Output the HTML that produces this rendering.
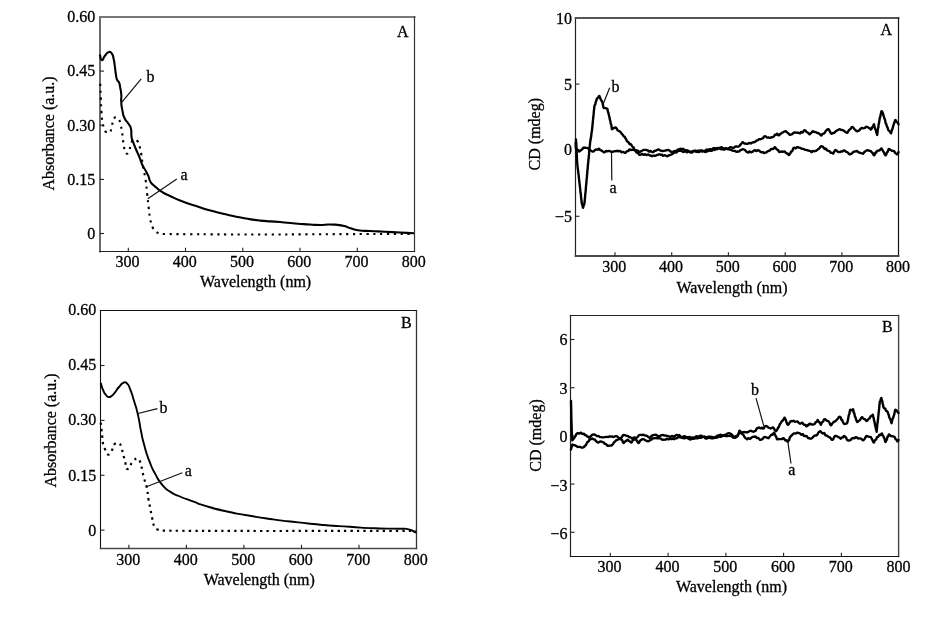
<!DOCTYPE html>
<html><head><meta charset="utf-8"><style>
html,body{margin:0;padding:0;background:#fff;width:934px;height:617px;overflow:hidden}
svg{display:block;will-change:transform}
text{font-family:"Liberation Serif", serif;fill:#000;stroke:#000;stroke-width:0.3px}
</style></head><body>
<svg width="934" height="617" viewBox="0 0 934 617">
<line x1="100.0" y1="17.0" x2="100.0" y2="251.5" stroke="#6a6a6a" stroke-width="2" stroke-linecap="square"/>
<line x1="100.0" y1="17.0" x2="414.5" y2="17.0" stroke="#777" stroke-width="2" stroke-linecap="square"/>
<line x1="414.5" y1="17.0" x2="414.5" y2="251.5" stroke="#333" stroke-width="1.2" stroke-linecap="square"/>
<line x1="100.0" y1="251.5" x2="414.5" y2="251.5" stroke="#222" stroke-width="1.1" stroke-linecap="square"/>
<line x1="100.0" y1="71.1" x2="104.0" y2="71.1" stroke="#222" stroke-width="1.1"/>
<line x1="100.0" y1="125.2" x2="104.0" y2="125.2" stroke="#222" stroke-width="1.1"/>
<line x1="100.0" y1="179.4" x2="104.0" y2="179.4" stroke="#222" stroke-width="1.1"/>
<line x1="100.0" y1="233.5" x2="104.0" y2="233.5" stroke="#222" stroke-width="1.1"/>
<line x1="128.3" y1="251.5" x2="128.3" y2="247.7" stroke="#222" stroke-width="1.1"/>
<line x1="185.5" y1="251.5" x2="185.5" y2="247.7" stroke="#222" stroke-width="1.1"/>
<line x1="242.8" y1="251.5" x2="242.8" y2="247.7" stroke="#222" stroke-width="1.1"/>
<line x1="300" y1="251.5" x2="300" y2="247.7" stroke="#222" stroke-width="1.1"/>
<line x1="357.3" y1="251.5" x2="357.3" y2="247.7" stroke="#222" stroke-width="1.1"/>
<text x="95.2" y="21.9" text-anchor="end" font-size="16" >0.60</text>
<text x="95.2" y="76.1" text-anchor="end" font-size="16" >0.45</text>
<text x="95.2" y="130.6" text-anchor="end" font-size="16" >0.30</text>
<text x="95.2" y="184.8" text-anchor="end" font-size="16" >0.15</text>
<text x="95.2" y="238.9" text-anchor="end" font-size="16" >0</text>
<text x="127.60000000000001" y="267.3" text-anchor="middle" font-size="16" >300</text>
<text x="184.8" y="267.3" text-anchor="middle" font-size="16" >400</text>
<text x="242.10000000000002" y="267.3" text-anchor="middle" font-size="16" >500</text>
<text x="299.3" y="267.3" text-anchor="middle" font-size="16" >600</text>
<text x="356.6" y="267.3" text-anchor="middle" font-size="16" >700</text>
<text x="413.8" y="267.3" text-anchor="middle" font-size="16" >800</text>
<text x="255.6" y="287" text-anchor="middle" font-size="16" >Wavelength (nm)</text>
<text transform="translate(53.5,133.4) rotate(-90)" x="0" y="0" text-anchor="middle" font-size="16">Absorbance (a.u.)</text>
<text x="397" y="36.5" text-anchor="start" font-size="16" >A</text>
<path d="M99.80,54.50 C101.20,58.30 100.07,59.86 101.90,60.20 C103.61,60.52 102.63,58.34 105.10,55.50 C107.43,52.81 106.32,52.54 109.10,51.90 C110.92,51.48 110.78,52.03 112.00,53.90 C113.78,56.63 112.83,55.46 113.60,58.80 C114.70,63.59 114.08,61.22 114.80,66.10 C115.68,72.02 115.00,69.10 116.00,75.00 C116.60,78.50 115.90,76.98 117.20,80.20 C117.84,81.78 118.24,80.63 118.90,82.20 C120.17,85.23 119.48,83.80 120.10,87.10 C121.08,92.33 120.89,89.71 121.30,95.00 C121.62,99.17 120.90,97.12 121.20,101.30 C121.63,107.39 121.20,104.41 122.40,110.40 C123.47,115.75 122.36,113.40 124.60,118.30 C126.50,122.46 126.17,120.06 128.60,124.00 C130.37,126.86 130.17,125.27 130.90,128.50 C132.17,134.14 130.68,131.52 131.60,137.30 C132.08,140.32 131.94,138.81 133.00,141.70 C134.81,146.61 133.90,144.16 135.90,149.00 C138.30,154.83 137.22,151.86 139.60,157.70 C141.62,162.66 140.24,160.35 142.50,165.20 C144.37,169.22 143.70,167.08 145.80,171.00 C147.63,174.41 146.86,172.65 148.40,176.20 C149.86,179.58 148.50,178.24 150.30,181.40 C151.96,184.31 151.20,182.90 153.60,185.30 C155.93,187.63 154.84,186.41 157.40,188.50 C159.57,190.27 158.38,189.55 160.70,191.10 C163.58,193.02 162.15,192.07 165.20,193.70 C167.01,194.67 166.13,194.15 168.00,195.00 C176.06,198.68 171.86,197.26 180.10,200.50 C190.66,204.66 185.40,202.58 196.20,206.10 C206.86,209.58 201.49,208.00 212.30,211.00 C222.89,213.94 217.57,212.59 228.30,215.00 C238.97,217.39 233.62,216.32 244.40,218.20 C255.02,220.05 249.68,219.46 260.40,220.60 C273.42,221.99 266.95,220.91 280.00,222.00 C290.01,222.84 284.99,222.67 295.00,223.50 C304.99,224.33 300.00,223.91 310.00,224.50 C317.00,224.91 313.50,225.00 320.50,225.00 C326.50,225.00 323.51,224.31 329.50,224.50 C338.51,224.78 334.17,224.10 343.00,225.70 C348.17,226.64 345.44,226.78 350.50,228.30 C355.44,229.78 352.91,229.50 358.00,230.20 C365.91,231.30 361.99,230.56 370.00,231.00 C379.99,231.56 375.00,231.20 385.00,231.70 C395.00,232.20 390.00,231.98 400.00,232.50 C409.33,232.98 404.67,232.73 414.00,233.20" fill="none" stroke="#000" stroke-width="2.1" stroke-linejoin="round"/>
<path d="M100.20,81.00 C100.25,83.67 100.21,83.33 100.30,86.00 C100.53,92.40 100.50,91.60 100.80,98.00 C101.14,105.47 100.97,104.54 101.50,112.00 C101.88,117.34 101.67,116.72 102.50,122.00 C103.01,125.25 102.92,124.90 104.00,128.00 C104.78,130.24 104.35,130.68 106.00,132.00 C107.34,133.08 108.53,133.61 109.60,132.50 C111.62,130.41 110.72,129.49 111.80,126.00 C113.06,121.92 111.79,121.04 114.00,118.30 C115.10,116.93 116.74,117.02 118.00,118.30 C120.26,120.60 119.53,121.33 120.60,125.00 C121.66,128.64 121.39,128.24 122.00,132.00 C122.62,135.82 122.40,135.36 122.90,139.20 C123.36,142.67 123.08,142.28 123.80,145.70 C124.63,149.64 124.02,150.04 125.80,153.00 C126.36,153.94 127.58,153.92 128.20,153.00 C130.19,150.03 129.25,149.55 130.70,145.70 C131.86,142.62 131.04,141.57 133.10,140.00 C134.46,138.96 135.73,139.43 137.10,140.80 C139.19,142.89 138.61,143.35 139.60,146.50 C140.79,150.28 140.52,149.87 141.20,153.80 C142.23,159.79 141.81,159.10 142.80,165.10 C143.52,169.44 143.57,168.88 144.40,173.20 C145.06,176.66 145.13,176.21 145.60,179.70 C146.63,187.35 146.35,186.42 147.20,194.10 C148.05,201.78 147.85,200.83 148.80,208.50 C149.55,214.54 149.17,213.86 150.40,219.80 C151.30,224.15 150.95,223.83 152.80,227.80 C153.94,230.23 153.79,230.39 156.00,231.80 C158.96,233.69 158.85,233.97 162.50,234.00 C296.45,235.14 279.87,234.00 414.00,234.00" fill="none" id="tla" stroke="#000" stroke-width="2.1" stroke-linecap="butt" stroke-dasharray="2.2 4.6" stroke-dashoffset="3.99"/>
<line x1="121.7" y1="102.4" x2="141.2" y2="78.9" stroke="#111" stroke-width="1.2"/>
<line x1="147.8" y1="198.8" x2="176.8" y2="178.9" stroke="#111" stroke-width="1.2"/>
<text x="146.5" y="82.3" text-anchor="start" font-size="16" >b</text>
<text x="180.5" y="179.5" text-anchor="start" font-size="16" >a</text>
<line x1="575.5" y1="18.0" x2="575.5" y2="256.0" stroke="#222" stroke-width="1.2" stroke-linecap="square"/>
<line x1="575.5" y1="18.0" x2="898.5" y2="18.0" stroke="#555" stroke-width="1.8" stroke-linecap="square"/>
<line x1="898.5" y1="18.0" x2="898.5" y2="256.0" stroke="#111" stroke-width="1.2" stroke-linecap="square"/>
<line x1="575.5" y1="256.0" x2="898.5" y2="256.0" stroke="#4a4a4a" stroke-width="1.8" stroke-linecap="square"/>
<line x1="575.5" y1="84.1" x2="579.5" y2="84.1" stroke="#222" stroke-width="1.1"/>
<line x1="575.5" y1="150.2" x2="579.5" y2="150.2" stroke="#222" stroke-width="1.1"/>
<line x1="575.5" y1="216.3" x2="579.5" y2="216.3" stroke="#222" stroke-width="1.1"/>
<line x1="615" y1="256.0" x2="615" y2="252.2" stroke="#222" stroke-width="1.1"/>
<line x1="671.7" y1="256.0" x2="671.7" y2="252.2" stroke="#222" stroke-width="1.1"/>
<line x1="728.4" y1="256.0" x2="728.4" y2="252.2" stroke="#222" stroke-width="1.1"/>
<line x1="785.2" y1="256.0" x2="785.2" y2="252.2" stroke="#222" stroke-width="1.1"/>
<line x1="841.9" y1="256.0" x2="841.9" y2="252.2" stroke="#222" stroke-width="1.1"/>
<text x="572.0" y="24.2" text-anchor="end" font-size="16" >10</text>
<text x="572.0" y="89.7" text-anchor="end" font-size="16" >5</text>
<text x="572.0" y="155.1" text-anchor="end" font-size="16" >0</text>
<text x="572.0" y="221.70000000000002" text-anchor="end" font-size="16" >−5</text>
<text x="614.3" y="271.5" text-anchor="middle" font-size="16" >300</text>
<text x="671.0" y="271.5" text-anchor="middle" font-size="16" >400</text>
<text x="727.6999999999999" y="271.5" text-anchor="middle" font-size="16" >500</text>
<text x="784.5" y="271.5" text-anchor="middle" font-size="16" >600</text>
<text x="841.1999999999999" y="271.5" text-anchor="middle" font-size="16" >700</text>
<text x="897.9" y="271.5" text-anchor="middle" font-size="16" >800</text>
<text x="732" y="293.2" text-anchor="middle" font-size="16" >Wavelength (nm)</text>
<text transform="translate(539.5,134.2) rotate(-90)" x="0" y="0" text-anchor="middle" font-size="16">CD (mdeg)</text>
<text x="880.5" y="35" text-anchor="start" font-size="16" >A</text>
<path d="M575.90,139.50 C575.96,139.96 575.98,140.02 576.02,140.48 C576.10,141.34 576.08,141.46 576.15,142.32 C576.19,142.84 576.23,142.91 576.27,143.43 C576.34,144.16 576.36,144.27 576.40,145.00 C576.44,145.70 576.43,145.80 576.45,146.49 C576.48,147.13 576.47,147.23 576.51,147.87 C576.52,148.10 576.55,148.13 576.56,148.36 C576.60,148.95 576.60,149.04 576.62,149.62 C576.65,150.82 576.63,151.00 576.67,152.20 C576.68,152.42 576.71,152.45 576.72,152.67 C576.76,153.28 576.76,153.36 576.78,153.97 C576.81,155.13 576.79,155.29 576.83,156.45 C576.84,156.71 576.87,156.74 576.88,157.00 C576.92,157.88 576.90,158.01 576.94,158.89 C576.95,159.26 576.98,159.31 576.99,159.69 C577.03,160.43 577.02,160.53 577.05,161.27 C577.07,161.80 577.04,161.88 577.10,162.40 C577.14,162.77 577.21,162.81 577.25,163.18 C577.36,164.12 577.33,164.26 577.41,165.20 C577.47,165.97 577.46,166.09 577.56,166.85 C577.61,167.22 577.66,167.27 577.71,167.63 C577.81,168.39 577.78,168.50 577.86,169.26 C577.93,169.82 577.91,169.91 578.02,170.46 C578.05,170.65 578.15,170.65 578.17,170.85 C578.29,171.93 578.23,172.10 578.32,173.19 C578.37,173.68 578.40,173.75 578.48,174.24 C578.54,174.64 578.56,174.70 578.63,175.10 C578.70,175.52 578.74,175.58 578.78,176.00 C578.89,177.18 578.82,177.36 578.94,178.55 C578.97,178.89 579.05,178.92 579.09,179.26 C579.19,180.03 579.17,180.15 579.24,180.93 C579.31,181.65 579.31,181.75 579.39,182.47 C579.45,182.96 579.47,183.03 579.55,183.52 C579.62,183.98 579.65,184.04 579.70,184.50 C579.79,185.40 579.74,185.53 579.84,186.42 C579.87,186.67 579.96,186.69 579.99,186.93 C580.09,187.81 580.03,187.95 580.13,188.83 C580.17,189.19 580.23,189.23 580.27,189.59 C580.37,190.53 580.33,190.67 580.41,191.62 C580.46,192.18 580.44,192.29 580.56,192.83 C580.57,192.91 580.68,192.86 580.70,192.95 C580.82,193.55 580.78,193.67 580.84,194.30 C580.91,194.96 580.94,195.05 580.99,195.71 C581.07,196.84 581.02,197.01 581.13,198.13 C581.15,198.37 581.24,198.39 581.27,198.63 C581.37,199.36 581.33,199.47 581.41,200.20 C581.46,200.58 581.51,200.63 581.56,201.01 C581.65,201.75 581.58,201.87 581.70,202.60 C581.80,203.22 581.86,203.30 582.03,203.91 C582.17,204.44 582.21,204.50 582.35,205.03 C582.51,205.61 582.54,205.69 582.67,206.28 C582.84,206.98 582.82,207.71 583.00,207.80 C583.14,207.87 583.21,207.18 583.38,206.63 C583.56,206.02 583.54,205.92 583.75,205.33 C583.89,204.93 584.01,204.91 584.12,204.51 C584.36,203.64 584.35,203.49 584.50,202.60 C584.59,202.08 584.57,202.00 584.63,201.48 C584.69,201.00 584.71,200.94 584.76,200.46 C584.83,199.76 584.82,199.66 584.89,198.96 C584.95,198.40 584.98,198.32 585.02,197.77 C585.10,196.89 585.10,196.77 585.15,195.90 C585.22,194.89 585.18,194.74 585.28,193.74 C585.30,193.57 585.39,193.56 585.42,193.39 C585.51,192.83 585.49,192.74 585.55,192.16 C585.61,191.47 585.62,191.37 585.68,190.68 C585.75,189.79 585.73,189.66 585.81,188.78 C585.85,188.23 585.90,188.16 585.94,187.61 C586.02,186.61 585.99,186.46 586.07,185.46 C586.11,185.01 586.14,184.95 586.20,184.50 C586.25,184.13 586.28,184.07 586.32,183.70 C586.39,182.91 586.38,182.80 586.44,182.01 C586.49,181.20 586.50,181.09 586.55,180.28 C586.61,179.52 586.57,179.39 586.67,178.65 C586.68,178.57 586.77,178.60 586.79,178.53 C586.88,178.04 586.87,177.95 586.91,177.43 C586.98,176.20 586.92,176.01 587.02,174.78 C587.03,174.66 587.13,174.67 587.14,174.55 C587.24,173.68 587.20,173.55 587.26,172.67 C587.31,171.88 587.31,171.76 587.38,170.98 C587.42,170.47 587.42,170.39 587.49,169.89 C587.53,169.61 587.57,169.58 587.61,169.30 C587.68,168.77 587.70,168.69 587.73,168.16 C587.81,166.97 587.75,166.80 587.85,165.62 C587.86,165.40 587.95,165.38 587.96,165.17 C588.06,164.17 588.00,164.02 588.08,163.02 C588.11,162.73 588.16,162.69 588.20,162.40 C588.27,161.91 588.29,161.84 588.34,161.34 C588.42,160.43 588.37,160.29 588.47,159.38 C588.50,159.11 588.57,159.08 588.61,158.81 C588.69,158.24 588.70,158.16 588.74,157.58 C588.82,156.60 588.78,156.45 588.88,155.48 C588.91,155.17 588.99,155.14 589.01,154.83 C589.11,153.71 589.08,153.54 589.15,152.41 C589.20,151.60 589.19,151.48 589.29,150.68 C589.32,150.39 589.39,150.36 589.42,150.08 C589.52,149.04 589.47,148.88 589.56,147.84 C589.60,147.31 589.63,147.23 589.69,146.70 C589.75,146.20 589.77,146.13 589.83,145.63 C589.89,145.13 589.91,145.06 589.96,144.55 C590.04,143.83 590.03,143.72 590.10,143.00 C590.18,142.15 590.19,142.03 590.29,141.18 C590.37,140.50 590.32,140.34 590.48,139.71 C590.50,139.63 590.65,139.74 590.67,139.65 C590.83,138.72 590.71,138.50 590.86,137.52 C590.89,137.35 591.01,137.36 591.05,137.19 C591.19,136.56 591.17,136.45 591.24,135.79 C591.35,134.83 591.32,134.68 591.43,133.72 C591.49,133.16 591.53,133.09 591.62,132.54 C591.71,131.98 591.73,131.90 591.81,131.33 C591.90,130.71 591.92,130.62 592.00,130.00 C592.07,129.48 592.08,129.40 592.14,128.88 C592.21,128.22 592.21,128.13 592.27,127.47 C592.33,126.82 592.34,126.73 592.41,126.08 C592.47,125.50 592.47,125.42 592.54,124.84 C592.59,124.44 592.64,124.39 592.68,123.98 C592.76,123.06 592.74,122.92 592.81,122.00 C592.87,121.32 592.87,121.22 592.95,120.55 C593.00,120.13 593.04,120.07 593.08,119.65 C593.17,118.69 593.14,118.55 593.22,117.59 C593.27,117.01 593.25,116.92 593.35,116.35 C593.38,116.19 593.47,116.19 593.49,116.03 C593.60,115.10 593.55,114.95 593.62,114.01 C593.67,113.40 593.71,113.32 593.76,112.71 C593.84,111.72 593.80,111.57 593.89,110.57 C593.93,110.23 593.98,110.19 594.03,109.84 C594.10,109.34 594.11,109.26 594.16,108.76 C594.24,108.08 594.20,107.97 594.30,107.30 C594.45,106.33 594.41,106.15 594.70,105.23 C594.78,104.97 594.99,105.03 595.10,104.77 C595.36,104.20 595.36,104.08 595.50,103.45 C595.73,102.43 595.61,102.22 595.90,101.24 C595.98,100.96 596.19,101.01 596.30,100.74 C596.57,100.06 596.40,99.86 596.70,99.20 C596.97,98.61 597.10,98.55 597.53,98.05 C597.88,97.65 598.04,97.69 598.37,97.27 C598.82,96.68 598.81,96.00 599.20,95.90 C599.48,95.83 599.58,96.41 599.80,96.90 C600.14,97.69 600.08,97.86 600.40,98.66 C600.64,99.27 600.68,99.36 601.00,99.93 C601.24,100.36 601.33,100.39 601.60,100.80 C601.83,101.14 601.92,101.17 602.08,101.54 C602.37,102.22 602.38,102.34 602.56,103.06 C602.83,104.16 602.79,104.34 603.04,105.44 C603.24,106.33 603.21,106.49 603.52,107.33 C603.66,107.73 603.65,107.97 604.00,108.10 C604.64,108.34 604.92,107.95 605.65,108.13 C606.46,108.32 606.77,108.34 607.30,108.90 C607.70,109.32 607.50,109.60 607.64,110.22 C607.82,110.96 607.79,111.08 607.99,111.81 C608.11,112.28 608.20,112.32 608.33,112.79 C608.52,113.46 608.50,113.56 608.67,114.24 C608.82,114.85 608.86,114.93 609.01,115.55 C609.18,116.23 609.20,116.33 609.36,117.02 C609.52,117.76 609.54,117.86 609.70,118.60 C609.84,119.28 609.83,119.39 610.00,120.07 C610.11,120.49 610.19,120.53 610.30,120.95 C610.47,121.61 610.48,121.72 610.60,122.39 C610.76,123.28 610.66,123.47 610.90,124.31 C610.94,124.47 611.16,124.36 611.20,124.52 C611.44,125.45 611.34,125.66 611.50,126.65 C611.62,127.39 611.63,127.50 611.80,128.23 C611.91,128.69 611.79,129.23 612.10,129.20 C612.70,129.15 612.93,128.49 613.75,128.07 C614.47,127.70 614.67,127.47 615.40,127.50 C615.93,127.52 616.11,127.74 616.47,128.18 C617.10,128.98 616.89,129.37 617.53,130.16 C617.89,130.59 618.10,130.50 618.60,130.80 C619.10,131.11 619.21,131.10 619.67,131.46 C620.21,131.87 620.30,131.93 620.75,132.43 C621.30,133.05 621.29,133.22 621.83,133.85 C622.30,134.41 622.47,134.41 622.90,135.00 C623.34,135.61 623.21,135.91 623.70,136.41 C623.95,136.67 624.25,136.38 624.50,136.64 C625.00,137.15 624.89,137.43 625.30,138.08 C625.64,138.63 625.80,138.65 626.10,139.22 C626.54,140.05 626.40,140.31 626.90,141.08 C627.15,141.47 627.34,141.40 627.70,141.70 C628.16,142.09 628.30,142.10 628.67,142.57 C629.20,143.25 629.04,143.70 629.63,144.17 C629.94,144.41 630.25,143.90 630.60,144.10 C631.16,144.44 631.14,144.74 631.57,145.32 C632.04,145.97 632.00,146.16 632.53,146.76 C632.91,147.18 633.19,147.04 633.50,147.50 C633.98,148.22 633.77,148.54 634.23,149.28 C634.44,149.63 634.65,149.53 634.95,149.83 C635.32,150.19 635.41,150.24 635.67,150.69 C636.09,151.39 635.86,151.75 636.40,152.30 C636.88,152.79 637.30,152.47 637.85,152.93 C638.65,153.59 638.47,154.21 639.30,154.70 C639.82,155.01 640.09,154.79 640.72,154.64 C641.42,154.48 641.51,153.99 642.15,154.04 C642.84,154.09 642.89,154.80 643.58,154.86 C644.22,154.92 644.36,154.23 645.00,154.30 C645.70,154.37 645.75,155.10 646.45,155.16 C647.11,155.21 647.21,154.56 647.90,154.53 C648.57,154.49 648.69,154.75 649.35,155.02 C650.04,155.30 650.10,155.45 650.80,155.70 C651.45,155.93 651.58,156.04 652.25,156.04 C652.93,156.03 653.01,155.72 653.70,155.66 C654.37,155.61 654.50,155.89 655.15,155.78 C655.85,155.67 655.91,155.45 656.60,155.20 C657.20,154.99 657.30,155.01 657.90,154.80 C658.51,154.59 658.59,154.34 659.20,154.31 C659.80,154.29 659.88,154.61 660.50,154.70 C661.11,154.79 661.29,154.47 661.84,154.69 C662.54,154.96 662.50,155.60 663.18,155.74 C663.75,155.86 663.89,155.27 664.52,155.26 C665.14,155.24 665.24,155.45 665.86,155.67 C666.49,155.89 666.58,156.25 667.20,156.20 C667.96,156.14 668.04,155.77 668.80,155.44 C669.54,155.12 669.64,155.08 670.40,154.81 C671.14,154.55 671.32,154.67 672.00,154.30 C672.74,153.90 672.74,153.65 673.45,153.16 C674.10,152.72 674.17,152.47 674.90,152.30 C675.59,152.14 675.88,152.74 676.50,152.46 C677.37,152.07 677.22,151.28 678.10,150.85 C678.72,150.55 678.98,151.03 679.70,150.90 C680.41,150.77 680.57,150.10 681.15,150.28 C681.92,150.53 681.80,151.38 682.60,151.81 C683.15,152.11 683.39,151.94 684.05,151.84 C684.74,151.75 684.87,151.30 685.50,151.40 C686.15,151.51 686.17,152.24 686.80,152.30 C687.38,152.35 687.46,151.73 688.10,151.63 C688.68,151.55 688.81,151.72 689.40,151.90 C690.08,152.10 690.14,152.36 690.83,152.45 C691.47,152.54 691.67,152.56 692.25,152.29 C693.00,151.94 692.93,151.34 693.67,151.11 C694.26,150.93 694.44,151.23 695.10,151.40 C695.79,151.57 695.87,151.68 696.57,151.83 C697.24,151.98 697.36,152.09 698.03,152.04 C698.73,151.98 698.91,151.94 699.50,151.60 C699.83,151.41 699.68,150.93 700.00,150.90 C700.54,150.85 700.70,151.28 701.35,151.42 C701.96,151.55 702.07,151.48 702.70,151.48 C703.33,151.48 703.45,151.29 704.05,151.41 C704.71,151.54 704.76,151.98 705.40,152.00 C706.01,152.02 706.10,151.71 706.73,151.49 C707.34,151.26 707.44,151.26 708.05,151.04 C708.67,150.82 708.75,150.56 709.38,150.53 C709.98,150.49 710.08,150.89 710.70,150.90 C711.28,150.91 711.42,150.84 711.95,150.58 C712.59,150.27 712.57,149.82 713.20,149.68 C713.73,149.56 714.00,150.24 714.45,150.02 C715.16,149.66 715.03,148.62 715.70,148.42 C716.20,148.27 716.39,149.30 716.95,149.26 C717.56,149.20 717.53,148.51 718.20,148.20 C718.86,147.89 719.09,148.18 719.80,147.94 C720.59,147.67 720.68,147.06 721.40,147.10 C722.10,147.14 722.11,147.77 722.83,148.10 C723.44,148.39 723.59,148.41 724.27,148.43 C724.93,148.45 725.04,148.15 725.70,148.20 C726.46,148.26 726.56,148.71 727.30,148.67 C728.06,148.64 728.19,148.42 728.90,148.07 C729.68,147.68 729.72,147.18 730.50,147.09 C731.21,147.01 731.33,147.53 732.10,147.70 C732.82,147.86 733.03,148.01 733.70,147.79 C734.52,147.53 734.48,146.97 735.30,146.66 C735.97,146.40 736.15,146.59 736.90,146.57 C737.65,146.56 737.82,146.80 738.50,146.60 C739.07,146.43 739.13,146.21 739.58,145.77 C740.13,145.23 740.14,145.08 740.65,144.49 C741.15,143.90 741.19,143.79 741.72,143.25 C742.19,142.77 742.29,142.25 742.80,142.30 C743.46,142.37 743.48,143.17 744.23,143.49 C744.81,143.74 745.01,143.44 745.67,143.53 C746.35,143.63 746.45,143.95 747.10,143.90 C747.71,143.86 747.77,143.58 748.38,143.34 C748.97,143.11 749.07,142.86 749.66,142.89 C750.27,142.92 750.37,143.55 750.94,143.48 C751.57,143.41 751.57,142.89 752.22,142.59 C752.77,142.33 752.90,142.42 753.50,142.30 C754.17,142.16 754.36,142.35 754.93,142.02 C755.70,141.59 755.61,141.16 756.37,140.68 C756.95,140.31 757.18,140.52 757.80,140.20 C758.52,139.83 758.50,139.47 759.23,139.21 C759.84,139.00 760.02,139.32 760.67,139.19 C761.36,139.04 761.45,138.92 762.10,138.60 C762.61,138.35 762.77,138.38 763.15,137.98 C763.75,137.35 763.54,136.85 764.20,136.40 C764.70,136.06 765.06,136.04 765.63,136.27 C766.40,136.59 766.30,137.24 767.07,137.57 C767.64,137.81 767.84,137.43 768.50,137.50 C769.14,137.57 769.23,137.88 769.85,137.86 C770.49,137.84 770.56,137.57 771.20,137.41 C771.82,137.25 771.96,137.38 772.55,137.16 C773.22,136.91 773.40,136.89 773.90,136.40 C774.53,135.78 774.32,135.25 774.97,134.76 C775.32,134.50 775.62,135.00 776.03,134.79 C776.62,134.50 776.63,133.64 777.10,133.70 C777.62,133.76 777.55,134.59 778.15,135.04 C778.53,135.33 778.83,135.51 779.20,135.30 C779.82,134.94 779.66,134.38 780.28,133.82 C780.67,133.47 780.88,133.63 781.35,133.36 C781.89,133.04 781.89,132.87 782.42,132.55 C782.89,132.28 783.00,132.32 783.50,132.10 C784.53,131.64 784.75,131.11 785.70,131.10 C786.26,131.09 786.24,131.64 786.75,132.07 C787.22,132.45 787.34,132.44 787.80,132.83 C788.32,133.27 788.36,133.37 788.85,133.83 C789.34,134.29 789.33,134.67 789.90,134.80 C790.56,134.95 790.83,134.75 791.50,134.41 C792.32,134.00 792.31,133.70 793.10,133.20 C793.71,132.81 793.81,132.64 794.50,132.49 C795.12,132.36 795.25,132.55 795.90,132.61 C796.55,132.67 796.64,132.72 797.30,132.76 C797.95,132.80 798.07,132.65 798.70,132.80 C799.38,132.95 799.57,133.58 800.10,133.40 C800.72,133.19 800.56,132.20 801.15,131.95 C801.54,131.79 801.76,132.60 802.20,132.51 C802.74,132.40 802.80,132.03 803.25,131.53 C803.78,130.95 803.70,130.52 804.30,130.20 C804.68,130.00 804.99,130.12 805.36,130.42 C805.98,130.91 805.83,131.32 806.42,131.88 C806.81,132.26 807.01,132.14 807.48,132.44 C808.00,132.79 808.08,132.86 808.54,133.28 C809.07,133.77 809.12,134.44 809.60,134.40 C810.12,134.36 810.09,133.62 810.67,133.11 C811.09,132.73 811.31,132.87 811.73,132.49 C812.31,131.97 812.20,131.35 812.80,131.20 C813.37,131.06 813.54,131.65 814.23,131.86 C814.87,132.05 815.03,131.85 815.67,132.06 C816.37,132.29 816.41,132.51 817.10,132.80 C817.74,133.06 817.93,132.91 818.53,133.24 C819.27,133.63 819.30,133.82 819.97,134.34 C820.64,134.88 820.82,135.58 821.40,135.50 C821.96,135.43 821.81,134.54 822.40,134.02 C822.74,133.72 822.97,133.96 823.40,133.75 C823.90,133.52 824.02,133.48 824.40,133.08 C824.95,132.51 824.93,132.32 825.40,131.66 C825.86,131.02 825.87,130.87 826.40,130.30 C826.80,129.87 826.90,129.83 827.40,129.53 C827.83,129.27 828.02,128.98 828.40,129.10 C828.86,129.25 828.88,129.60 829.20,130.11 C829.63,130.80 829.62,130.94 830.00,131.66 C830.37,132.35 830.35,132.50 830.80,133.12 C831.10,133.54 831.20,133.92 831.60,133.90 C832.11,133.88 832.15,133.27 832.74,133.03 C833.22,132.84 833.42,133.18 833.89,132.98 C834.49,132.71 834.50,132.47 835.03,132.03 C835.56,131.58 835.62,131.48 836.17,131.05 C836.68,130.66 836.75,130.59 837.31,130.28 C837.82,130.00 837.94,130.05 838.46,129.78 C839.01,129.50 839.07,129.07 839.60,129.10 C840.27,129.14 840.32,129.70 841.03,129.94 C841.65,130.14 841.83,129.88 842.47,130.05 C843.17,130.23 843.29,130.30 843.90,130.70 C844.71,131.23 844.69,131.51 845.50,132.04 C846.19,132.49 846.46,132.91 847.10,132.80 C847.66,132.70 847.64,132.17 848.06,131.58 C848.54,130.91 848.49,130.71 849.02,130.10 C849.38,129.68 849.55,129.74 849.98,129.37 C850.45,128.97 850.55,128.93 850.94,128.45 C851.45,127.82 851.32,127.28 851.90,127.00 C852.32,126.79 852.66,127.05 853.10,127.41 C853.78,127.97 853.68,128.31 854.30,128.99 C854.80,129.53 854.95,129.53 855.50,130.04 C856.07,130.57 856.05,130.96 856.70,131.20 C857.24,131.40 857.45,131.18 858.05,130.97 C858.71,130.74 858.87,130.71 859.40,130.25 C860.13,129.61 860.01,129.23 860.75,128.61 C861.27,128.18 861.45,128.06 862.10,128.00 C862.71,127.94 862.82,128.36 863.45,128.35 C864.08,128.33 864.23,128.24 864.80,127.94 C865.49,127.57 865.45,127.14 866.15,126.89 C866.71,126.70 866.93,126.78 867.50,127.00 C868.06,127.21 868.03,127.52 868.57,127.81 C869.02,128.06 869.25,127.85 869.63,128.17 C870.24,128.68 870.17,129.44 870.70,129.60 C871.05,129.71 871.20,129.20 871.50,128.74 C871.95,128.07 871.87,127.88 872.30,127.19 C872.61,126.69 872.82,126.72 873.10,126.21 C873.56,125.37 873.60,124.33 873.90,124.30 C874.16,124.27 874.08,125.26 874.30,126.08 C874.45,126.62 874.53,126.68 874.70,127.23 C874.91,127.89 874.89,128.00 875.10,128.66 C875.26,129.18 875.27,129.26 875.50,129.75 C875.65,130.07 875.80,130.06 875.90,130.39 C876.17,131.32 876.01,131.54 876.30,132.46 C876.38,132.72 876.62,132.65 876.70,132.92 C876.99,133.84 876.95,134.94 877.10,135.00 C877.23,135.05 877.15,133.99 877.31,133.14 C877.34,132.95 877.49,132.96 877.52,132.77 C877.68,131.66 877.60,131.47 877.72,130.35 C877.79,129.76 877.84,129.68 877.93,129.10 C878.03,128.48 877.98,128.36 878.14,127.78 C878.17,127.67 878.33,127.75 878.35,127.63 C878.52,126.57 878.44,126.36 878.55,125.26 C878.63,124.53 878.59,124.37 878.76,123.70 C878.79,123.60 878.95,123.71 878.97,123.60 C879.15,122.54 879.01,122.29 879.18,121.20 C879.20,121.06 879.35,121.10 879.38,120.96 C879.55,120.25 879.50,120.12 879.59,119.38 C879.69,118.64 879.64,118.52 879.80,117.80 C879.88,117.42 879.99,117.39 880.12,117.02 C880.29,116.52 880.33,116.44 880.44,115.92 C880.62,115.07 880.57,114.93 880.76,114.08 C880.86,113.62 880.97,113.58 881.08,113.13 C881.27,112.33 881.05,111.81 881.40,111.40 C881.58,111.19 881.97,111.48 882.20,111.80 C882.71,112.51 882.71,112.74 883.00,113.60 C883.27,114.38 883.16,114.54 883.40,115.33 C883.54,115.78 883.66,115.81 883.80,116.27 C884.03,117.01 883.97,117.15 884.20,117.90 C884.35,118.38 884.39,118.44 884.60,118.90 C884.78,119.29 884.91,119.30 885.02,119.71 C885.30,120.78 885.21,120.98 885.44,122.07 C885.60,122.86 885.55,123.09 885.86,123.75 C885.94,123.92 886.21,123.67 886.28,123.84 C886.61,124.67 886.40,124.98 886.70,125.90 C886.85,126.38 887.05,126.37 887.25,126.84 C887.56,127.54 887.55,127.67 887.80,128.40 C888.06,129.14 888.01,129.29 888.35,129.99 C888.53,130.37 888.61,130.40 888.90,130.70 C889.36,131.18 889.55,131.14 889.95,131.66 C890.53,132.40 890.65,133.43 891.00,133.40 C891.33,133.37 891.19,132.39 891.42,131.52 C891.58,130.91 891.61,130.81 891.84,130.22 C892.00,129.81 892.09,129.78 892.26,129.37 C892.48,128.83 892.52,128.75 892.68,128.18 C892.91,127.36 892.88,127.22 893.10,126.40 C893.28,125.72 893.33,125.63 893.54,124.96 C893.74,124.34 893.77,124.25 893.98,123.64 C894.18,123.06 894.22,122.98 894.42,122.40 C894.63,121.78 894.63,121.68 894.86,121.06 C895.04,120.55 895.02,120.03 895.30,120.00 C895.60,119.97 895.75,120.47 896.10,120.93 C896.50,121.45 896.45,121.64 896.90,122.10 C897.20,122.40 897.45,122.24 897.70,122.57 C898.20,123.26 898.13,123.49 898.50,124.30" fill="none" stroke="#000" stroke-width="2.4" stroke-linejoin="round" stroke-linecap="round"/>
<path d="M575.60,143.00 C575.63,143.62 575.65,143.71 575.67,144.33 C575.72,145.27 575.69,145.41 575.75,146.36 C575.76,146.59 575.81,146.62 575.83,146.84 C575.88,147.52 575.66,147.69 575.90,148.30 C576.19,149.04 576.35,149.27 576.97,149.74 C577.34,150.02 577.67,149.63 578.03,149.92 C578.67,150.45 578.50,151.26 579.10,151.50 C579.52,151.67 579.72,151.16 580.23,150.81 C580.77,150.43 580.85,150.37 581.35,149.93 C581.90,149.45 581.97,149.36 582.48,148.84 C583.02,148.27 582.97,147.88 583.60,147.60 C584.10,147.38 584.29,147.70 584.90,147.76 C585.51,147.82 585.59,147.79 586.20,147.84 C586.81,147.90 586.98,147.74 587.50,148.00 C588.19,148.35 588.15,148.69 588.80,149.16 C589.36,149.57 589.54,149.49 590.10,149.90 C590.89,150.48 590.85,150.87 591.70,151.30 C592.34,151.62 592.65,151.72 593.30,151.50 C594.06,151.24 594.01,150.76 594.72,150.25 C595.34,149.80 595.44,149.58 596.15,149.44 C596.77,149.32 596.98,149.87 597.58,149.70 C598.31,149.48 598.42,148.51 599.00,148.60 C599.61,148.70 599.48,149.59 600.12,150.10 C600.53,150.42 600.77,150.15 601.25,150.38 C601.82,150.64 601.87,150.75 602.38,151.14 C602.92,151.56 602.90,151.85 603.50,152.10 C604.03,152.32 604.27,152.34 604.80,152.13 C605.49,151.85 605.41,151.27 606.10,151.03 C606.63,150.84 606.79,151.19 607.40,151.20 C608.01,151.21 608.09,151.06 608.70,151.05 C609.31,151.04 609.43,150.98 610.00,151.15 C610.64,151.33 610.66,151.67 611.30,151.80 C611.99,151.94 612.16,151.88 612.87,151.73 C613.62,151.56 613.68,151.25 614.43,151.12 C615.14,151.00 615.29,151.30 616.00,151.20 C616.64,151.11 616.72,150.68 617.33,150.70 C617.96,150.72 618.03,151.24 618.67,151.29 C619.27,151.33 619.45,150.73 620.00,150.90 C620.82,151.16 620.77,151.96 621.60,152.21 C622.26,152.41 622.50,151.73 623.20,151.86 C623.99,152.01 624.03,152.68 624.80,152.80 C625.34,152.88 625.52,152.64 626.00,152.28 C626.64,151.81 626.54,151.41 627.20,151.02 C627.66,150.75 627.95,151.14 628.40,150.86 C629.07,150.43 628.92,149.72 629.60,149.50 C630.24,149.29 630.46,149.87 631.23,149.93 C631.99,149.98 632.13,149.64 632.87,149.75 C633.65,149.86 633.71,150.22 634.50,150.40 C635.22,150.56 635.36,150.41 636.10,150.48 C636.85,150.54 637.03,150.39 637.70,150.68 C638.53,151.05 638.50,151.72 639.30,151.90 C639.91,152.04 640.07,151.64 640.72,151.37 C641.40,151.09 641.50,151.06 642.15,150.72 C642.83,150.37 642.86,150.11 643.58,149.91 C644.19,149.73 644.34,149.86 645.00,149.90 C645.64,149.94 645.73,149.97 646.36,150.09 C647.00,150.22 647.15,150.14 647.72,150.43 C648.42,150.80 648.39,151.38 649.08,151.51 C649.66,151.63 649.84,150.88 650.44,150.97 C651.11,151.06 651.11,151.60 651.80,151.90 C652.37,152.15 652.61,152.35 653.14,152.16 C653.86,151.89 653.77,151.32 654.48,150.91 C655.02,150.60 655.22,150.83 655.82,150.61 C656.47,150.37 656.51,150.20 657.16,149.93 C657.77,149.68 657.91,149.39 658.50,149.50 C659.30,149.64 659.33,150.12 660.13,150.47 C660.85,150.78 660.99,150.81 661.77,150.92 C662.52,151.01 662.64,150.96 663.40,150.90 C664.15,150.84 664.26,150.81 665.00,150.65 C665.76,150.49 665.85,150.38 666.60,150.21 C667.34,150.03 667.51,149.75 668.20,149.90 C669.00,150.07 669.04,150.45 669.80,150.90 C670.53,151.33 670.61,151.52 671.40,151.77 C672.10,151.99 672.31,152.05 673.00,151.90 C673.61,151.76 673.59,151.36 674.20,151.15 C674.71,150.97 674.85,151.13 675.40,151.05 C675.97,150.97 676.14,151.09 676.60,150.79 C677.26,150.36 677.13,149.90 677.80,149.50 C678.30,149.20 678.51,149.45 679.10,149.28 C679.73,149.11 679.78,148.83 680.40,148.76 C680.99,148.70 681.09,148.96 681.70,149.00 C682.36,149.05 682.53,148.74 683.12,148.95 C683.86,149.22 683.82,149.68 684.55,150.03 C685.15,150.31 685.30,150.23 685.98,150.31 C686.63,150.40 686.79,150.18 687.40,150.40 C688.22,150.70 688.21,151.12 689.03,151.42 C689.73,151.68 689.91,151.60 690.67,151.60 C691.43,151.59 691.56,151.57 692.30,151.40 C693.07,151.22 693.14,151.04 693.90,150.85 C694.63,150.66 694.76,150.59 695.50,150.60 C696.25,150.61 696.36,150.92 697.10,150.90 C697.78,150.89 697.87,150.54 698.55,150.54 C699.23,150.54 699.35,150.97 700.00,150.90 C700.63,150.83 700.69,150.26 701.30,150.24 C701.90,150.22 701.97,150.67 702.60,150.82 C703.18,150.96 703.29,150.88 703.90,150.86 C704.51,150.84 704.68,150.99 705.20,150.73 C705.89,150.38 705.85,149.68 706.50,149.57 C707.06,149.47 707.23,150.36 707.80,150.29 C708.44,150.22 708.42,149.54 709.10,149.27 C709.63,149.05 709.80,149.19 710.40,149.24 C711.01,149.30 711.18,149.69 711.70,149.51 C712.39,149.27 712.31,148.71 713.00,148.35 C713.52,148.08 713.75,148.01 714.30,148.17 C714.96,148.36 715.00,149.11 715.60,149.09 C716.22,149.07 716.22,148.31 716.90,148.08 C717.44,147.90 717.60,148.11 718.20,148.20 C718.95,148.32 719.08,148.29 719.80,148.53 C720.58,148.80 720.62,149.08 721.40,149.30 C722.11,149.50 722.25,149.36 723.00,149.42 C723.75,149.48 723.91,149.75 724.60,149.56 C725.41,149.35 725.43,148.62 726.20,148.56 C726.92,148.50 727.02,149.09 727.80,149.30 C728.44,149.47 728.58,149.26 729.23,149.39 C729.92,149.52 729.99,149.66 730.67,149.87 C731.33,150.08 731.44,150.08 732.10,150.30 C732.77,150.52 732.85,150.66 733.53,150.81 C734.18,150.96 734.36,150.70 734.97,150.93 C735.70,151.21 735.69,151.75 736.40,151.90 C736.95,152.02 737.07,151.59 737.68,151.51 C738.26,151.43 738.47,151.80 738.96,151.54 C739.67,151.17 739.54,150.63 740.24,150.18 C740.73,149.86 740.94,150.08 741.52,149.89 C742.14,149.67 742.18,149.38 742.80,149.30 C743.41,149.22 743.59,149.27 744.15,149.53 C744.85,149.86 744.91,150.03 745.50,150.56 C746.17,151.16 746.13,151.43 746.85,151.95 C747.39,152.34 747.61,152.59 748.20,152.50 C748.86,152.39 748.88,151.57 749.53,151.52 C750.12,151.47 750.20,152.18 750.85,152.28 C751.44,152.37 751.62,152.20 752.17,151.91 C752.85,151.56 752.85,151.33 753.50,150.90 C754.14,150.48 754.29,150.04 754.93,150.10 C755.63,150.16 755.68,151.11 756.37,151.16 C757.01,151.21 757.09,150.43 757.80,150.30 C758.36,150.19 758.56,150.35 759.08,150.65 C759.75,151.04 759.70,151.36 760.36,151.79 C760.89,152.13 761.02,152.22 761.64,152.31 C762.22,152.39 762.37,152.01 762.92,152.15 C763.57,152.33 763.56,152.90 764.20,153.00 C764.83,153.09 764.99,152.83 765.63,152.56 C766.33,152.28 766.42,152.21 767.07,151.83 C767.76,151.43 767.78,151.22 768.50,150.90 C769.05,150.65 769.31,150.94 769.78,150.60 C770.50,150.07 770.33,149.49 771.06,149.03 C771.52,148.74 771.76,149.11 772.34,149.00 C772.95,148.89 773.13,148.92 773.62,148.55 C774.32,148.03 774.33,147.10 774.90,147.10 C775.43,147.10 775.42,147.93 775.98,148.56 C776.42,149.07 776.50,149.16 777.05,149.55 C777.50,149.88 777.76,149.72 778.12,150.12 C778.76,150.81 778.52,151.44 779.20,151.90 C779.65,152.20 779.93,151.87 780.55,151.77 C781.19,151.65 781.28,151.41 781.90,151.43 C782.54,151.45 782.62,151.86 783.25,151.85 C783.88,151.85 784.07,151.24 784.60,151.40 C785.20,151.58 785.12,152.09 785.67,152.59 C786.13,153.00 786.21,153.07 786.75,153.35 C787.21,153.59 787.43,153.38 787.83,153.70 C788.44,154.20 788.38,154.94 788.90,155.10 C789.23,155.20 789.33,154.67 789.66,154.26 C790.04,153.78 790.12,153.72 790.41,153.18 C790.83,152.41 790.67,152.02 791.17,151.45 C791.37,151.22 791.70,151.67 791.93,151.46 C792.41,151.01 792.37,150.72 792.69,150.05 C793.08,149.20 792.96,148.95 793.44,148.19 C793.66,147.85 793.83,147.67 794.20,147.70 C794.87,147.75 795.04,148.48 795.68,148.37 C796.41,148.25 796.39,147.43 797.15,147.21 C797.76,147.04 797.94,147.38 798.62,147.52 C799.31,147.66 799.46,147.55 800.10,147.80 C800.73,148.04 800.73,148.31 801.36,148.57 C801.91,148.79 802.04,148.68 802.62,148.83 C803.21,148.98 803.31,148.99 803.88,149.20 C804.48,149.43 804.53,149.59 805.14,149.78 C805.70,149.96 805.82,149.85 806.40,150.00 C807.04,150.17 807.11,150.28 807.75,150.46 C808.37,150.64 808.47,150.62 809.10,150.77 C809.73,150.92 809.88,150.81 810.45,151.09 C811.14,151.43 811.19,152.14 811.80,152.10 C812.44,152.06 812.43,151.12 813.12,150.93 C813.67,150.78 813.83,151.38 814.45,151.37 C815.07,151.37 815.20,151.21 815.77,150.91 C816.43,150.56 816.50,150.45 817.10,150.00 C817.62,149.61 817.65,149.49 818.17,149.11 C818.65,148.77 818.85,148.87 819.25,148.46 C819.85,147.85 819.73,147.56 820.33,146.94 C820.74,146.50 820.87,146.28 821.40,146.20 C821.87,146.13 822.03,146.33 822.48,146.61 C823.04,146.96 823.12,147.05 823.56,147.55 C824.13,148.18 824.03,148.75 824.64,149.04 C825.03,149.22 825.32,148.38 825.72,148.55 C826.33,148.82 826.20,149.44 826.80,150.00 C827.30,150.46 827.45,150.48 828.08,150.75 C828.64,150.99 828.88,150.75 829.36,151.10 C830.08,151.63 829.91,152.16 830.64,152.62 C831.11,152.92 831.39,152.52 831.92,152.74 C832.58,153.02 832.74,153.82 833.20,153.70 C833.67,153.58 833.54,152.89 833.90,152.22 C834.19,151.67 834.27,151.61 834.60,151.09 C834.92,150.58 834.86,150.07 835.30,150.00 C835.85,149.92 836.09,150.36 836.73,150.76 C837.43,151.20 837.43,151.47 838.17,151.81 C838.77,152.09 838.97,152.20 839.60,152.10 C840.30,151.99 840.33,151.48 841.03,151.35 C841.66,151.23 841.87,151.73 842.47,151.55 C843.20,151.34 843.17,150.75 843.90,150.50 C844.35,150.34 844.55,150.44 844.98,150.68 C845.56,150.99 845.50,151.29 846.06,151.68 C846.51,151.99 846.66,151.90 847.14,152.18 C847.67,152.50 847.78,152.53 848.22,152.96 C848.79,153.52 848.67,153.97 849.30,154.30 C849.75,154.54 849.99,154.34 850.53,154.17 C851.14,153.98 851.27,153.94 851.77,153.54 C852.42,153.01 852.34,152.69 853.00,152.18 C853.49,151.80 853.64,151.82 854.23,151.63 C854.79,151.46 854.90,151.57 855.47,151.42 C856.05,151.27 856.17,150.90 856.70,151.00 C857.35,151.12 857.37,151.53 858.00,151.90 C858.58,152.25 858.68,152.29 859.30,152.55 C859.89,152.80 859.99,152.82 860.60,152.99 C861.20,153.16 861.30,153.13 861.90,153.30 C862.51,153.46 862.74,153.93 863.20,153.70 C863.85,153.37 863.67,152.75 864.27,152.10 C864.66,151.68 864.86,151.77 865.33,151.41 C865.86,151.02 865.83,150.78 866.40,150.50 C867.00,150.21 867.19,150.12 867.83,150.21 C868.53,150.30 868.57,150.68 869.27,150.87 C869.90,151.05 870.18,150.69 870.70,151.00 C871.22,151.30 871.05,151.70 871.50,152.18 C871.80,152.50 872.00,152.39 872.30,152.70 C872.74,153.17 872.76,153.30 873.10,153.85 C873.50,154.51 873.44,155.07 873.90,155.30 C874.19,155.44 874.47,155.05 874.70,154.65 C875.22,153.72 874.94,153.18 875.50,152.45 C875.69,152.19 876.06,152.74 876.30,152.53 C876.81,152.07 876.54,151.46 877.10,151.00 C877.58,150.61 877.90,150.95 878.53,150.72 C879.24,150.46 879.38,150.41 879.97,149.94 C880.72,149.33 880.76,148.57 881.40,148.40 C881.77,148.30 881.83,148.89 882.12,149.37 C882.50,150.00 882.48,150.14 882.83,150.78 C883.15,151.35 883.22,151.41 883.55,151.97 C883.89,152.54 883.97,152.61 884.27,153.20 C884.64,153.96 884.53,154.20 884.98,154.87 C885.19,155.18 885.44,155.41 885.70,155.30 C886.07,155.15 886.12,154.80 886.34,154.30 C886.71,153.47 886.55,153.21 886.98,152.44 C887.15,152.14 887.45,152.30 887.62,152.00 C888.05,151.24 887.91,151.00 888.26,150.16 C888.51,149.55 888.46,148.99 888.90,148.90 C889.41,148.80 889.65,149.35 890.30,149.75 C890.96,150.16 891.00,150.33 891.70,150.64 C892.31,150.91 892.44,150.88 893.10,151.00 C893.59,151.09 893.85,150.77 894.17,151.08 C894.85,151.73 894.61,152.27 895.25,153.06 C895.61,153.50 895.82,153.42 896.33,153.72 C896.82,154.00 897.07,154.56 897.40,154.30 C898.09,153.76 897.99,153.07 898.50,152.00" fill="none" stroke="#000" stroke-width="2.4" stroke-linejoin="round" stroke-linecap="round"/>
<line x1="603.2" y1="104" x2="609.7" y2="87.8" stroke="#111" stroke-width="1.2"/>
<line x1="611.5" y1="152" x2="611.8" y2="180.6" stroke="#111" stroke-width="1.2"/>
<text x="611.5" y="91.7" text-anchor="start" font-size="16" >b</text>
<text x="609.5" y="192.8" text-anchor="start" font-size="16" >a</text>
<line x1="100.5" y1="310.5" x2="100.5" y2="548.6" stroke="#111" stroke-width="1.1" stroke-linecap="square"/>
<line x1="100.5" y1="310.5" x2="416.5" y2="310.5" stroke="#111" stroke-width="1.1" stroke-linecap="square"/>
<line x1="416.5" y1="310.5" x2="416.5" y2="548.6" stroke="#333" stroke-width="1.3" stroke-linecap="square"/>
<line x1="100.5" y1="548.6" x2="416.5" y2="548.6" stroke="#4a4a4a" stroke-width="1.5" stroke-linecap="square"/>
<line x1="100.5" y1="365.5" x2="104.5" y2="365.5" stroke="#222" stroke-width="1.1"/>
<line x1="100.5" y1="420.4" x2="104.5" y2="420.4" stroke="#222" stroke-width="1.1"/>
<line x1="100.5" y1="475.3" x2="104.5" y2="475.3" stroke="#222" stroke-width="1.1"/>
<line x1="100.5" y1="530.1" x2="104.5" y2="530.1" stroke="#222" stroke-width="1.1"/>
<line x1="128.9" y1="548.6" x2="128.9" y2="544.8000000000001" stroke="#222" stroke-width="1.1"/>
<line x1="186.4" y1="548.6" x2="186.4" y2="544.8000000000001" stroke="#222" stroke-width="1.1"/>
<line x1="243.9" y1="548.6" x2="243.9" y2="544.8000000000001" stroke="#222" stroke-width="1.1"/>
<line x1="301.5" y1="548.6" x2="301.5" y2="544.8000000000001" stroke="#222" stroke-width="1.1"/>
<line x1="359" y1="548.6" x2="359" y2="544.8000000000001" stroke="#222" stroke-width="1.1"/>
<text x="96.2" y="314.7" text-anchor="end" font-size="16" >0.60</text>
<text x="96.2" y="369.9" text-anchor="end" font-size="16" >0.45</text>
<text x="96.2" y="425.19999999999993" text-anchor="end" font-size="16" >0.30</text>
<text x="96.2" y="480.5" text-anchor="end" font-size="16" >0.15</text>
<text x="96.2" y="535.7" text-anchor="end" font-size="16" >0</text>
<text x="128.20000000000002" y="565.3" text-anchor="middle" font-size="16" >300</text>
<text x="185.70000000000002" y="565.3" text-anchor="middle" font-size="16" >400</text>
<text x="243.20000000000002" y="565.3" text-anchor="middle" font-size="16" >500</text>
<text x="300.8" y="565.3" text-anchor="middle" font-size="16" >600</text>
<text x="358.3" y="565.3" text-anchor="middle" font-size="16" >700</text>
<text x="415.8" y="565.3" text-anchor="middle" font-size="16" >800</text>
<text x="259.2" y="585" text-anchor="middle" font-size="16" >Wavelength (nm)</text>
<text transform="translate(55.8,430.5) rotate(-90)" x="0" y="0" text-anchor="middle" font-size="16">Absorbance (a.u.)</text>
<text x="401" y="327.5" text-anchor="start" font-size="16" >B</text>
<path d="M100.70,382.70 C102.30,387.57 101.08,385.32 103.10,390.00 C104.62,393.52 103.62,392.07 106.00,395.00 C107.42,396.74 106.80,396.64 108.80,397.00 C110.47,397.30 109.94,397.06 111.50,396.00 C113.68,394.52 112.68,395.26 114.40,393.20 C117.68,389.26 115.56,390.79 119.00,387.00 C122.09,383.59 120.48,384.03 124.20,382.40 C125.81,381.69 125.70,382.11 127.00,383.50 C129.44,386.11 128.39,384.93 129.80,388.40 C132.99,396.26 131.40,392.36 133.90,400.50 C136.87,410.16 135.71,405.26 138.00,415.10 C140.44,425.60 138.83,420.44 141.00,431.00 C142.83,439.90 141.57,435.55 144.00,444.30 C147.17,455.68 145.18,450.18 149.40,461.20 C152.91,470.38 150.86,466.01 155.60,474.60 C159.72,482.07 157.22,478.82 162.70,485.30 C166.75,490.09 164.66,488.02 169.90,491.50 C175.40,495.15 172.69,493.40 178.80,496.00 C189.42,500.53 184.21,498.04 195.00,502.20 C198.74,503.64 196.76,503.25 200.60,504.40 C215.89,508.98 208.15,507.17 223.70,510.80 C238.95,514.37 231.36,512.51 246.80,515.20 C263.89,518.18 255.32,516.89 272.50,519.30 C289.59,521.69 281.05,520.50 298.20,522.40 C315.32,524.30 306.74,523.53 323.90,525.00 C341.01,526.46 332.46,525.70 349.60,526.80 C366.73,527.90 358.15,527.63 375.30,528.30 C392.42,528.97 383.87,528.29 401.00,528.80 C406.14,528.95 403.79,528.06 408.70,529.30 C414.06,530.66 411.27,530.43 416.40,532.70" fill="none" stroke="#000" stroke-width="1.9" stroke-linejoin="round"/>
<path d="M100.70,422.40 C101.13,426.29 101.08,425.81 101.50,429.70 C101.88,433.17 101.82,432.73 102.20,436.20 C102.62,440.04 102.22,439.64 103.00,443.40 C103.60,446.31 103.54,446.01 104.80,448.70 C106.31,451.93 106.13,454.03 108.20,454.50 C109.92,454.89 110.38,452.82 111.90,450.30 C113.69,447.33 112.16,446.29 114.40,444.20 C116.05,442.66 117.45,442.37 119.20,443.50 C121.34,444.88 120.65,445.92 121.70,448.90 C122.94,452.42 122.51,452.08 123.50,455.70 C124.43,459.12 124.56,458.64 125.30,462.10 C126.00,465.36 124.86,465.99 126.20,468.30 C126.78,469.30 127.99,469.21 128.90,468.30 C131.30,465.90 129.92,464.83 132.40,462.10 C134.66,459.61 135.41,458.23 137.80,458.50 C139.73,458.71 139.52,460.41 140.50,463.00 C141.87,466.60 141.32,466.31 142.20,470.10 C143.19,474.36 142.88,473.88 144.00,478.10 C145.28,482.89 145.68,482.16 146.70,487.00 C148.08,493.57 147.38,492.86 148.50,499.50 C149.30,504.27 149.37,503.65 150.30,508.40 C151.23,513.14 150.89,512.60 152.00,517.30 C153.24,522.57 152.37,522.48 154.70,527.10 C155.73,529.15 156.12,529.00 158.30,529.80 C161.34,530.92 161.16,530.69 164.50,530.70 C298.60,531.27 281.87,530.79 416.00,530.90" fill="none" id="bla" stroke="#000" stroke-width="2.2" stroke-linecap="butt" stroke-dasharray="2.3 4.180000000000001" stroke-dashoffset="6.264"/>
<line x1="138" y1="413.5" x2="157.4" y2="408.6" stroke="#111" stroke-width="1.2"/>
<line x1="145.8" y1="487" x2="182.3" y2="472.8" stroke="#111" stroke-width="1.2"/>
<text x="159.5" y="413.3" text-anchor="start" font-size="16" >b</text>
<text x="184.8" y="476" text-anchor="start" font-size="16" >a</text>
<line x1="570.5" y1="315.5" x2="570.5" y2="556.5" stroke="#222" stroke-width="1.2" stroke-linecap="square"/>
<line x1="570.5" y1="315.5" x2="898.6" y2="315.5" stroke="#222" stroke-width="1.2" stroke-linecap="square"/>
<line x1="898.6" y1="315.5" x2="898.6" y2="556.5" stroke="#444" stroke-width="1.4" stroke-linecap="square"/>
<line x1="570.5" y1="556.5" x2="898.6" y2="556.5" stroke="#111" stroke-width="1.1" stroke-linecap="square"/>
<line x1="570.5" y1="339.5" x2="574.5" y2="339.5" stroke="#222" stroke-width="1.1"/>
<line x1="570.5" y1="387.7" x2="574.5" y2="387.7" stroke="#222" stroke-width="1.1"/>
<line x1="570.5" y1="435.9" x2="574.5" y2="435.9" stroke="#222" stroke-width="1.1"/>
<line x1="570.5" y1="484.1" x2="574.5" y2="484.1" stroke="#222" stroke-width="1.1"/>
<line x1="570.5" y1="532.3" x2="574.5" y2="532.3" stroke="#222" stroke-width="1.1"/>
<line x1="610.3" y1="556.5" x2="610.3" y2="552.7" stroke="#222" stroke-width="1.1"/>
<line x1="668.1" y1="556.5" x2="668.1" y2="552.7" stroke="#222" stroke-width="1.1"/>
<line x1="725.9" y1="556.5" x2="725.9" y2="552.7" stroke="#222" stroke-width="1.1"/>
<line x1="783.6" y1="556.5" x2="783.6" y2="552.7" stroke="#222" stroke-width="1.1"/>
<line x1="841.4" y1="556.5" x2="841.4" y2="552.7" stroke="#222" stroke-width="1.1"/>
<text x="567.6" y="345.4" text-anchor="end" font-size="16" >6</text>
<text x="567.6" y="393.9" text-anchor="end" font-size="16" >3</text>
<text x="567.6" y="442.09999999999997" text-anchor="end" font-size="16" >0</text>
<text x="567.6" y="490.7" text-anchor="end" font-size="16" >−3</text>
<text x="567.6" y="539.3" text-anchor="end" font-size="16" >−6</text>
<text x="609.5999999999999" y="571.5" text-anchor="middle" font-size="16" >300</text>
<text x="667.4" y="571.5" text-anchor="middle" font-size="16" >400</text>
<text x="725.1999999999999" y="571.5" text-anchor="middle" font-size="16" >500</text>
<text x="782.9" y="571.5" text-anchor="middle" font-size="16" >600</text>
<text x="840.6999999999999" y="571.5" text-anchor="middle" font-size="16" >700</text>
<text x="898.5" y="571.5" text-anchor="middle" font-size="16" >800</text>
<text x="731.5" y="591.8" text-anchor="middle" font-size="16" >Wavelength (nm)</text>
<text transform="translate(540.8,435.5) rotate(-90)" x="0" y="0" text-anchor="middle" font-size="16">CD (mdeg)</text>
<text x="882" y="331.8" text-anchor="start" font-size="16" >B</text>
<path d="M571.00,401.00 C571.01,401.63 571.02,401.72 571.03,402.34 C571.04,403.00 571.04,403.09 571.06,403.75 C571.07,404.34 571.07,404.42 571.09,405.01 C571.10,405.46 571.11,405.52 571.11,405.97 C571.13,406.84 571.12,406.96 571.14,407.83 C571.15,408.12 571.17,408.16 571.17,408.45 C571.19,409.41 571.18,409.54 571.20,410.50 C571.21,411.24 571.21,411.34 571.23,412.08 C571.24,412.57 571.25,412.64 571.26,413.13 C571.27,413.85 571.27,413.95 571.29,414.67 C571.30,415.58 571.30,415.71 571.31,416.62 C571.32,417.20 571.32,417.29 571.34,417.87 C571.35,417.98 571.37,417.99 571.37,418.10 C571.40,418.98 571.38,419.11 571.40,420.00 C571.42,420.83 571.42,420.95 571.44,421.77 C571.46,422.28 571.46,422.35 571.49,422.85 C571.50,423.07 571.52,423.10 571.53,423.33 C571.57,424.16 571.55,424.28 571.58,425.12 C571.59,425.66 571.60,425.73 571.62,426.27 C571.64,426.78 571.65,426.85 571.67,427.37 C571.69,428.31 571.69,428.45 571.71,429.39 C571.73,430.29 571.73,430.42 571.76,431.31 C571.77,431.63 571.78,431.68 571.80,432.00 C571.84,432.52 571.86,432.60 571.88,433.12 C571.93,434.15 571.92,434.29 571.97,435.32 C571.99,435.85 572.00,435.92 572.05,436.44 C572.08,436.70 572.12,436.73 572.13,436.98 C572.20,438.13 572.16,438.30 572.22,439.45 C572.24,439.85 572.14,440.35 572.30,440.30 C572.58,440.22 572.72,439.66 573.16,439.17 C573.52,438.77 573.71,438.82 574.02,438.38 C574.51,437.70 574.44,437.51 574.88,436.78 C575.25,436.18 575.38,436.14 575.74,435.54 C576.18,434.80 576.03,434.49 576.60,433.90 C577.08,433.41 577.32,433.33 578.00,433.23 C578.63,433.14 578.80,433.63 579.40,433.49 C580.10,433.33 580.17,432.52 580.80,432.60 C581.59,432.71 581.59,433.56 582.45,433.90 C583.13,434.16 583.47,433.60 584.10,433.90 C584.74,434.21 584.56,434.80 585.16,435.20 C585.54,435.46 585.83,435.07 586.22,435.33 C586.82,435.71 586.69,436.12 587.28,436.57 C587.68,436.87 587.89,436.67 588.34,436.92 C588.88,437.20 588.97,437.82 589.40,437.70 C589.97,437.54 589.92,436.91 590.48,436.31 C590.92,435.84 591.03,435.81 591.55,435.41 C592.03,435.04 592.08,434.90 592.62,434.67 C593.08,434.47 593.20,434.47 593.70,434.50 C594.45,434.55 594.63,434.52 595.30,434.85 C596.13,435.26 596.06,435.78 596.90,436.10 C597.56,436.36 597.82,435.88 598.50,436.09 C599.31,436.34 599.30,436.83 600.10,437.10 C600.67,437.30 600.83,437.03 601.45,437.10 C602.09,437.17 602.17,437.38 602.80,437.40 C603.43,437.41 603.52,437.23 604.15,437.16 C604.78,437.09 604.87,437.17 605.50,437.10 C606.12,437.03 606.21,436.86 606.83,436.86 C607.44,436.85 607.56,437.17 608.15,437.07 C608.80,436.97 608.83,436.55 609.47,436.43 C610.06,436.33 610.18,436.57 610.80,436.60 C611.40,436.63 611.51,436.46 612.10,436.55 C612.72,436.64 612.80,437.01 613.40,436.99 C614.01,436.96 614.08,436.66 614.70,436.45 C615.29,436.26 615.40,436.09 616.00,436.12 C616.62,436.16 616.77,436.25 617.30,436.60 C618.12,437.13 618.05,437.57 618.90,438.00 C619.54,438.32 619.81,438.34 620.50,438.20 C621.05,438.09 621.17,437.90 621.57,437.46 C622.16,436.81 622.05,436.54 622.63,435.87 C623.05,435.39 623.13,435.16 623.70,435.00 C624.30,434.83 624.49,435.00 625.13,435.17 C625.83,435.36 625.88,435.55 626.57,435.78 C627.22,435.99 627.39,435.81 628.00,436.10 C628.71,436.44 628.69,436.77 629.40,437.11 C629.99,437.39 630.24,437.10 630.80,437.42 C631.54,437.84 631.54,438.67 632.20,438.70 C632.82,438.73 632.84,437.88 633.55,437.55 C634.10,437.30 634.29,437.38 634.90,437.46 C635.55,437.55 635.65,438.01 636.25,437.92 C636.91,437.84 637.08,437.60 637.60,437.10 C638.27,436.46 638.12,436.09 638.80,435.47 C639.24,435.06 639.41,435.00 640.00,434.90 C640.72,434.78 640.86,435.04 641.60,435.01 C642.35,434.98 642.48,434.69 643.20,434.78 C643.97,434.87 644.03,435.18 644.80,435.40 C645.34,435.55 645.46,435.41 646.00,435.56 C646.58,435.74 646.68,435.78 647.20,436.11 C647.80,436.48 647.82,436.64 648.40,437.06 C648.94,437.43 649.09,437.90 649.60,437.80 C650.22,437.68 650.22,437.11 650.83,436.58 C651.36,436.10 651.44,436.02 652.05,435.64 C652.59,435.30 652.67,435.22 653.27,435.04 C653.82,434.88 653.93,434.93 654.50,434.90 C655.24,434.86 655.41,434.69 656.10,434.90 C656.91,435.15 656.91,435.52 657.70,435.89 C658.41,436.22 658.60,436.51 659.30,436.40 C660.09,436.28 660.10,435.75 660.90,435.41 C661.60,435.11 661.75,435.02 662.50,435.02 C663.25,435.02 663.35,435.25 664.10,435.40 C664.84,435.55 664.95,435.53 665.70,435.66 C666.45,435.78 666.56,435.76 667.30,435.93 C668.06,436.10 668.15,436.18 668.90,436.40 C669.65,436.62 669.78,436.95 670.50,436.87 C671.27,436.79 671.36,436.05 672.10,436.06 C672.85,436.07 673.00,436.97 673.70,436.90 C674.42,436.83 674.44,436.24 675.15,435.75 C675.80,435.31 675.89,435.03 676.60,434.90 C677.17,434.79 677.28,435.18 677.90,435.24 C678.50,435.31 678.69,434.96 679.20,435.19 C679.90,435.50 679.84,435.91 680.50,436.40 C681.16,436.89 681.33,437.29 682.04,437.28 C682.76,437.26 682.80,436.58 683.58,436.34 C684.24,436.13 684.44,436.17 685.12,436.33 C685.88,436.51 685.91,436.84 686.66,437.08 C687.34,437.30 687.49,437.34 688.20,437.30 C688.88,437.26 689.01,436.83 689.65,436.92 C690.36,437.03 690.38,437.60 691.10,437.73 C691.74,437.85 691.88,437.43 692.55,437.44 C693.23,437.46 693.38,437.95 694.00,437.80 C694.73,437.63 694.71,437.17 695.42,436.76 C696.04,436.41 696.18,436.19 696.85,436.18 C697.51,436.17 697.63,436.78 698.28,436.72 C698.96,436.65 698.99,436.13 699.70,435.90 C700.37,435.68 700.58,435.58 701.24,435.76 C702.02,435.97 702.01,436.56 702.78,436.73 C703.44,436.88 703.65,436.31 704.32,436.45 C705.09,436.60 705.10,437.24 705.86,437.35 C706.54,437.45 706.67,437.06 707.40,436.90 C708.07,436.76 708.17,436.74 708.85,436.70 C709.52,436.66 709.62,436.69 710.30,436.72 C710.98,436.76 711.09,436.72 711.75,436.85 C712.44,436.99 712.51,437.19 713.20,437.30 C713.86,437.40 714.01,437.46 714.65,437.30 C715.37,437.11 715.44,436.92 716.10,436.54 C716.79,436.15 716.82,435.93 717.55,435.64 C718.18,435.40 718.36,435.62 719.00,435.40 C719.71,435.16 719.78,434.66 720.45,434.67 C721.13,434.67 721.19,435.16 721.90,435.42 C722.54,435.66 722.71,435.84 723.35,435.73 C724.07,435.60 724.08,435.17 724.80,434.90 C725.37,434.69 725.59,434.97 726.10,434.69 C726.80,434.30 726.71,433.87 727.40,433.46 C727.92,433.15 728.10,433.14 728.70,433.15 C729.31,433.16 729.40,433.30 730.00,433.50 C730.51,433.67 730.65,433.62 731.08,433.94 C731.65,434.37 731.61,434.60 732.15,435.11 C732.61,435.54 732.82,435.47 733.22,435.95 C733.83,436.68 733.70,437.65 734.30,437.70 C734.95,437.75 735.04,436.64 735.90,436.18 C736.53,435.85 736.93,436.34 737.50,436.00 C737.93,435.74 737.77,435.41 738.02,434.91 C738.26,434.45 738.40,434.43 738.55,433.95 C738.89,432.88 738.73,432.64 739.08,431.58 C739.22,431.13 739.29,430.61 739.60,430.70 C740.28,430.90 740.34,431.78 741.20,432.21 C741.83,432.53 742.06,432.34 742.80,432.30 C743.41,432.27 743.49,432.04 744.10,432.05 C744.71,432.05 744.79,432.26 745.40,432.32 C746.00,432.37 746.10,432.32 746.70,432.27 C747.31,432.21 747.45,432.31 748.00,432.08 C748.66,431.81 748.65,431.53 749.30,431.20 C749.91,430.89 750.06,430.68 750.70,430.70 C751.36,430.73 751.44,431.05 752.10,431.31 C752.74,431.56 752.88,431.85 753.50,431.80 C754.04,431.76 754.04,431.36 754.58,431.10 C755.05,430.87 755.34,431.12 755.66,430.75 C756.34,429.96 756.07,429.44 756.74,428.60 C757.08,428.18 757.32,428.31 757.82,428.05 C758.32,427.79 758.41,427.43 758.90,427.50 C759.58,427.59 759.65,428.35 760.33,428.39 C760.99,428.43 761.12,427.61 761.77,427.66 C762.46,427.71 762.61,428.72 763.20,428.60 C763.89,428.46 763.85,427.75 764.50,427.08 C765.07,426.49 765.12,426.09 765.80,425.90 C766.32,425.75 766.55,426.01 767.07,426.35 C767.74,426.79 767.66,427.13 768.33,427.57 C768.84,427.90 769.00,427.83 769.60,428.00 C770.34,428.21 770.49,428.50 771.20,428.39 C771.99,428.27 772.07,427.54 772.80,427.50 C773.32,427.47 773.51,427.77 773.87,428.25 C774.51,429.09 774.31,429.46 774.93,430.33 C775.30,430.84 775.55,431.21 776.00,431.20 C776.38,431.19 776.40,430.74 776.72,430.30 C777.07,429.80 777.15,429.74 777.43,429.20 C777.82,428.45 777.72,428.24 778.15,427.53 C778.39,427.14 778.66,427.24 778.87,426.84 C779.33,425.94 779.16,425.67 779.58,424.74 C779.83,424.21 779.97,424.19 780.30,423.70 C780.71,423.09 780.77,423.01 781.16,422.39 C781.58,421.72 781.50,421.48 782.02,420.93 C782.30,420.63 782.61,420.89 782.88,420.58 C783.41,419.96 783.29,419.68 783.74,418.95 C784.09,418.38 784.22,417.82 784.60,417.80 C784.92,417.78 784.96,418.35 785.24,418.85 C785.56,419.43 785.65,419.49 785.88,420.10 C786.25,421.11 786.15,421.32 786.52,422.33 C786.74,422.93 786.86,422.98 787.16,423.56 C787.46,424.14 787.40,424.72 787.80,424.80 C788.20,424.88 788.46,424.39 788.87,423.88 C789.45,423.16 789.36,422.91 789.93,422.16 C790.36,421.61 790.41,421.34 791.00,421.10 C791.53,420.89 791.73,421.27 792.35,421.21 C792.99,421.14 793.12,420.71 793.70,420.83 C794.38,420.98 794.36,421.59 795.05,421.79 C795.62,421.95 795.77,421.65 796.40,421.60 C796.97,421.55 797.17,421.33 797.63,421.58 C798.32,421.96 798.22,422.40 798.87,422.95 C799.37,423.38 799.51,423.75 800.10,423.70 C801.02,423.63 801.28,422.62 802.10,422.70 C802.72,422.76 802.61,423.46 803.17,424.01 C803.62,424.45 803.69,424.59 804.25,424.82 C804.70,424.99 804.96,424.60 805.33,424.87 C805.96,425.34 805.87,426.34 806.40,426.40 C806.87,426.45 806.86,425.47 807.47,425.11 C807.85,424.87 808.16,425.36 808.53,425.12 C809.15,424.71 808.97,423.95 809.60,423.70 C810.13,423.49 810.37,423.89 811.03,424.11 C811.71,424.34 811.79,424.62 812.47,424.67 C813.12,424.71 813.26,424.54 813.90,424.30 C814.37,424.13 814.53,424.15 814.85,423.78 C815.42,423.11 815.22,422.72 815.80,422.07 C816.11,421.73 816.44,422.01 816.75,421.67 C817.33,421.04 817.27,420.03 817.70,420.00 C818.09,419.97 818.03,420.91 818.50,421.55 C818.77,421.92 819.00,421.80 819.30,422.15 C819.75,422.67 819.74,422.81 820.10,423.41 C820.49,424.05 820.58,424.92 820.90,424.80 C821.33,424.64 821.22,423.67 821.70,422.81 C821.96,422.34 822.09,422.30 822.50,421.95 C822.83,421.66 823.07,421.79 823.30,421.43 C823.82,420.60 823.49,420.02 824.10,419.40 C824.44,419.05 824.86,419.11 825.33,419.34 C826.01,419.66 825.91,420.13 826.57,420.57 C827.06,420.90 827.25,420.75 827.80,421.00 C828.20,421.18 828.29,421.19 828.60,421.49 C829.03,421.90 829.11,421.99 829.40,422.52 C829.86,423.37 829.72,423.62 830.20,424.45 C830.47,424.91 830.66,425.41 831.00,425.30 C831.53,425.13 831.56,424.52 832.08,423.85 C832.57,423.21 832.60,423.08 833.16,422.50 C833.61,422.03 833.68,421.92 834.24,421.60 C834.69,421.34 834.91,421.58 835.32,421.28 C835.92,420.83 835.84,420.54 836.40,420.00 C836.92,419.50 837.17,419.60 837.63,419.06 C838.32,418.26 838.13,417.81 838.87,417.13 C839.28,416.76 839.61,416.69 840.10,416.80 C840.48,416.88 840.56,417.13 840.73,417.54 C841.15,418.53 840.90,418.96 841.37,419.80 C841.49,420.03 841.84,419.62 842.00,419.83 C842.44,420.41 842.27,420.75 842.63,421.49 C842.86,421.96 843.00,421.97 843.27,422.43 C843.60,423.00 843.41,423.38 843.90,423.70 C844.45,424.06 844.78,423.98 845.50,423.87 C846.27,423.75 846.57,423.71 847.10,423.20 C847.47,422.84 847.26,422.57 847.42,422.02 C847.56,421.52 847.62,421.46 847.74,420.95 C847.92,420.16 847.92,420.04 848.06,419.23 C848.22,418.37 848.21,418.24 848.38,417.37 C848.51,416.73 848.56,416.65 848.70,416.02 C848.86,415.32 848.78,415.16 849.02,414.53 C849.08,414.37 849.30,414.48 849.34,414.31 C849.60,413.25 849.48,413.02 849.66,411.90 C849.77,411.21 849.78,411.09 849.98,410.43 C850.08,410.11 850.04,409.83 850.30,409.80 C850.82,409.74 851.07,410.36 851.65,410.25 C852.33,410.12 852.51,409.27 853.00,409.30 C853.34,409.32 853.30,409.84 853.42,410.35 C853.69,411.51 853.51,411.79 853.84,412.89 C853.90,413.11 854.18,412.96 854.26,413.18 C854.58,414.07 854.46,414.29 854.68,415.25 C854.85,415.98 854.83,416.11 855.10,416.80 C855.28,417.26 855.49,417.25 855.65,417.71 C856.00,418.71 855.86,418.93 856.20,419.94 C856.37,420.45 856.51,420.47 856.75,420.95 C857.02,421.48 856.94,422.00 857.30,422.10 C857.64,422.19 857.82,421.71 858.26,421.35 C858.71,420.99 858.77,420.94 859.22,420.57 C859.67,420.20 859.84,420.23 860.18,419.78 C860.73,419.05 860.58,418.75 861.14,418.03 C861.48,417.59 861.68,417.23 862.10,417.30 C862.63,417.39 862.63,417.93 863.17,418.38 C863.63,418.76 863.72,418.80 864.25,419.07 C864.73,419.31 864.94,419.15 865.33,419.49 C865.94,420.05 865.79,420.73 866.40,421.00 C866.79,421.17 867.06,420.81 867.47,420.44 C868.06,419.88 867.96,419.59 868.53,419.01 C868.95,418.58 869.24,418.74 869.60,418.27 C870.23,417.47 870.02,417.07 870.67,416.29 C871.01,415.88 871.30,416.07 871.73,415.73 C872.29,415.28 872.46,414.56 872.80,414.60 C873.09,414.63 872.98,415.27 873.09,415.87 C873.25,416.67 873.17,416.82 873.38,417.59 C873.44,417.79 873.62,417.74 873.68,417.94 C873.89,418.70 873.82,418.86 873.97,419.66 C874.10,420.38 874.08,420.49 874.26,421.19 C874.35,421.53 874.48,421.55 874.55,421.90 C874.75,422.83 874.69,422.99 874.85,423.94 C874.97,424.69 874.96,424.80 875.14,425.54 C875.24,425.95 875.34,425.98 875.43,426.39 C875.61,427.16 875.57,427.28 875.72,428.05 C875.84,428.64 875.85,428.74 876.02,429.31 C876.12,429.67 876.22,429.69 876.31,430.05 C876.50,430.85 876.49,431.74 876.60,431.80 C876.69,431.85 876.63,430.97 876.74,430.27 C876.76,430.10 876.86,430.10 876.88,429.93 C876.99,428.87 876.93,428.71 877.02,427.64 C877.06,427.10 877.11,427.02 877.16,426.48 C877.24,425.63 877.21,425.50 877.30,424.65 C877.34,424.14 877.38,424.07 877.43,423.55 C877.51,422.91 877.46,422.79 877.57,422.17 C877.59,422.07 877.70,422.11 877.71,422.01 C877.83,421.28 877.77,421.15 877.85,420.40 C877.90,419.89 877.93,419.82 877.99,419.32 C878.06,418.79 878.08,418.71 878.13,418.18 C878.21,417.31 878.18,417.18 878.27,416.32 C878.31,415.93 878.37,415.88 878.41,415.49 C878.50,414.61 878.47,414.48 878.55,413.59 C878.60,412.90 878.59,412.80 878.69,412.11 C878.72,411.87 878.79,411.85 878.83,411.60 C878.92,410.97 878.90,410.87 878.97,410.23 C879.03,409.65 879.05,409.57 879.10,409.00 C879.18,408.06 879.15,407.93 879.24,406.99 C879.28,406.58 879.34,406.53 879.38,406.12 C879.47,405.26 879.42,405.13 879.52,404.27 C879.55,404.07 879.64,404.05 879.66,403.85 C879.77,402.90 879.58,402.69 879.80,401.80 C879.89,401.44 880.20,401.52 880.33,401.16 C880.70,400.19 880.53,399.95 880.87,398.95 C881.03,398.48 881.26,397.83 881.40,398.00 C881.65,398.30 881.46,399.11 881.70,399.95 C881.74,400.10 881.94,399.99 882.00,400.13 C882.22,400.61 882.20,400.74 882.30,401.29 C882.48,402.33 882.39,402.51 882.60,403.53 C882.67,403.86 882.82,403.87 882.90,404.19 C883.10,404.94 883.04,405.07 883.20,405.83 C883.32,406.43 883.25,406.55 883.50,407.10 C883.79,407.75 883.85,407.95 884.36,408.39 C884.65,408.64 885.00,408.27 885.22,408.57 C885.80,409.35 885.51,409.87 886.08,410.71 C886.31,411.05 886.65,410.78 886.94,411.08 C887.45,411.62 887.46,411.81 887.80,412.50 C888.07,413.05 888.04,413.16 888.26,413.74 C888.48,414.30 888.55,414.37 888.72,414.94 C888.99,415.83 888.94,415.98 889.19,416.88 C889.37,417.51 889.37,417.62 889.65,418.22 C889.80,418.55 889.94,418.54 890.11,418.87 C890.37,419.34 890.40,419.42 890.58,419.93 C890.83,420.68 890.82,420.80 891.04,421.56 C891.25,422.33 891.29,423.16 891.50,423.20 C891.69,423.24 891.72,422.42 891.88,421.73 C892.08,420.87 892.05,420.74 892.26,419.89 C892.40,419.31 892.39,419.19 892.64,418.66 C892.75,418.42 892.92,418.48 893.02,418.23 C893.28,417.61 893.19,417.46 893.40,416.80 C893.54,416.36 893.63,416.32 893.78,415.87 C893.99,415.26 893.99,415.17 894.16,414.54 C894.35,413.84 894.39,413.75 894.54,413.04 C894.75,412.07 894.69,411.91 894.92,410.95 C895.05,410.40 894.96,409.94 895.30,409.80 C895.64,409.66 895.95,410.00 896.37,410.36 C896.95,410.86 896.94,411.04 897.43,411.65 C897.94,412.28 898.00,412.37 898.50,413.00" fill="none" stroke="#000" stroke-width="2.4" stroke-linejoin="round" stroke-linecap="round"/>
<path d="M571.00,449.50 C571.20,448.71 571.22,448.60 571.43,447.81 C571.63,447.09 571.67,446.99 571.87,446.27 C572.08,445.49 571.84,444.86 572.30,444.60 C572.71,444.36 573.04,444.99 573.73,445.20 C574.38,445.39 574.53,445.23 575.17,445.46 C575.87,445.70 575.95,445.82 576.60,446.20 C577.24,446.58 577.27,446.99 577.92,447.08 C578.51,447.16 578.64,446.55 579.25,446.58 C579.88,446.61 579.94,446.95 580.58,447.19 C581.18,447.43 581.28,447.59 581.90,447.60 C582.64,447.61 582.86,447.61 583.50,447.23 C584.36,446.72 584.34,446.40 585.10,445.70 C585.49,445.35 585.68,445.41 585.96,444.98 C586.49,444.17 586.35,443.91 586.82,443.04 C587.16,442.41 587.18,442.24 587.68,441.77 C587.98,441.49 588.27,441.75 588.54,441.44 C589.08,440.83 588.85,440.40 589.40,439.80 C589.76,439.41 589.99,439.53 590.50,439.30 C591.25,438.96 591.35,438.57 592.10,438.57 C592.85,438.57 592.93,439.02 593.70,439.30 C594.18,439.48 594.39,439.25 594.78,439.55 C595.39,440.02 595.28,440.36 595.85,440.95 C596.28,441.39 596.42,441.39 596.92,441.75 C597.42,442.11 597.47,442.48 598.00,442.50 C598.64,442.52 598.74,442.08 599.43,441.83 C600.08,441.61 600.21,441.45 600.87,441.49 C601.55,441.53 601.62,441.80 602.30,442.00 C602.89,442.17 603.11,441.95 603.58,442.30 C604.31,442.83 604.13,443.35 604.86,443.88 C605.33,444.23 605.66,443.84 606.14,444.17 C606.86,444.67 606.69,445.24 607.42,445.68 C607.89,445.96 608.10,445.72 608.70,445.70 C609.37,445.68 609.47,445.68 610.13,445.59 C610.81,445.51 610.99,445.65 611.57,445.35 C612.33,444.96 612.44,444.78 613.00,444.10 C613.61,443.36 613.47,443.06 614.08,442.33 C614.47,441.84 614.70,441.93 615.15,441.48 C615.71,440.91 615.62,440.62 616.22,440.14 C616.62,439.83 616.81,439.98 617.30,439.80 C618.05,439.52 618.14,439.41 618.90,439.15 C619.63,438.90 619.84,438.59 620.50,438.70 C620.96,438.77 620.90,439.17 621.30,439.53 C621.65,439.86 621.85,439.79 622.10,440.18 C622.59,440.93 622.45,441.19 622.90,441.99 C623.19,442.51 623.33,443.08 623.70,443.00 C624.21,442.89 624.17,442.12 624.78,441.59 C625.17,441.24 625.39,441.41 625.85,441.12 C626.40,440.77 626.38,440.56 626.92,440.22 C627.38,439.94 627.60,439.63 628.00,439.80 C628.60,440.06 628.46,440.68 629.07,441.15 C629.46,441.46 629.71,441.21 630.13,441.48 C630.70,441.84 630.73,442.56 631.20,442.50 C631.73,442.43 631.77,441.80 632.28,441.19 C632.77,440.59 632.75,440.37 633.35,439.92 C633.76,439.60 633.97,439.80 634.42,439.54 C634.97,439.23 635.08,438.61 635.50,438.70 C635.96,438.80 635.91,439.38 636.30,439.97 C636.66,440.51 636.76,440.56 637.10,441.11 C637.50,441.76 637.42,441.98 637.90,442.54 C638.17,442.86 638.37,443.05 638.70,443.00 C639.04,442.95 639.14,442.69 639.35,442.31 C639.74,441.62 639.52,441.31 640.00,440.70 C640.43,440.16 640.67,440.21 641.30,439.85 C641.89,439.52 641.96,439.36 642.60,439.22 C643.17,439.10 643.35,439.09 643.90,439.30 C644.70,439.60 644.72,439.91 645.50,440.32 C646.21,440.70 646.33,440.79 647.10,441.00 C647.82,441.20 648.03,441.38 648.70,441.20 C649.36,441.03 649.33,440.61 649.97,440.25 C650.51,439.94 650.75,440.14 651.23,439.76 C651.93,439.23 651.77,438.65 652.50,438.30 C653.11,438.01 653.36,438.45 654.10,438.38 C654.86,438.30 654.95,437.99 655.70,437.97 C656.44,437.95 656.55,438.23 657.30,438.30 C658.05,438.37 658.18,438.22 658.93,438.27 C659.70,438.32 659.88,438.21 660.57,438.51 C661.41,438.88 661.36,439.41 662.20,439.70 C662.87,439.93 663.05,439.62 663.80,439.61 C664.55,439.61 664.70,439.87 665.40,439.70 C666.20,439.49 666.23,438.87 667.00,438.80 C667.66,438.74 667.78,439.42 668.45,439.41 C669.13,439.40 669.20,438.84 669.90,438.75 C670.55,438.67 670.67,439.04 671.35,439.05 C672.02,439.06 672.13,438.77 672.80,438.80 C673.46,438.83 673.59,439.30 674.20,439.19 C674.90,439.07 674.89,438.58 675.60,438.30 C676.22,438.05 676.45,438.36 677.05,438.07 C677.81,437.71 677.76,437.07 678.50,436.90 C679.11,436.76 679.25,437.27 679.95,437.40 C680.61,437.53 680.74,437.34 681.40,437.47 C682.10,437.61 682.16,437.78 682.85,437.98 C683.52,438.17 683.63,438.32 684.30,438.30 C685.02,438.28 685.11,437.97 685.84,437.91 C686.55,437.84 686.71,437.81 687.38,438.02 C688.15,438.27 688.18,438.53 688.92,438.88 C689.61,439.19 689.75,439.46 690.46,439.44 C691.18,439.42 691.25,438.97 692.00,438.80 C692.65,438.65 692.78,438.83 693.45,438.75 C694.14,438.65 694.22,438.54 694.90,438.41 C695.57,438.29 695.67,438.23 696.35,438.20 C697.02,438.18 697.14,438.39 697.80,438.30 C698.56,438.19 698.63,437.88 699.40,437.77 C700.13,437.66 700.31,438.01 701.00,437.82 C701.80,437.60 701.81,437.03 702.60,436.90 C703.30,436.78 703.53,436.95 704.20,437.30 C705.02,437.71 704.97,438.26 705.80,438.52 C706.46,438.73 706.67,438.48 707.40,438.30 C708.09,438.13 708.16,437.85 708.85,437.78 C709.51,437.72 709.63,437.89 710.30,438.02 C710.98,438.15 711.07,438.27 711.75,438.33 C712.42,438.40 712.55,438.44 713.20,438.30 C713.90,438.14 713.95,437.80 714.65,437.69 C715.30,437.60 715.44,437.95 716.10,437.88 C716.79,437.80 716.92,437.69 717.55,437.37 C718.27,437.00 718.28,436.51 719.00,436.40 C719.64,436.30 719.78,436.94 720.45,436.92 C721.13,436.90 721.26,436.67 721.90,436.32 C722.62,435.92 722.63,435.42 723.35,435.32 C723.99,435.23 724.10,435.72 724.80,435.90 C725.38,436.05 725.49,435.99 726.10,436.01 C726.71,436.03 726.79,436.01 727.40,435.97 C728.01,435.94 728.09,435.90 728.70,435.88 C729.31,435.86 729.40,435.84 730.00,435.90 C730.67,435.97 730.85,435.86 731.43,436.17 C732.19,436.57 732.11,437.01 732.87,437.41 C733.45,437.72 733.63,437.69 734.30,437.70 C735.04,437.71 735.26,437.81 735.90,437.47 C736.76,437.01 736.94,436.81 737.50,436.00 C738.01,435.27 737.74,434.90 738.20,434.17 C738.39,433.87 738.69,434.07 738.90,433.79 C739.34,433.20 739.09,432.44 739.60,432.30 C740.16,432.15 740.49,432.69 741.20,433.16 C741.99,433.67 742.10,433.77 742.80,434.40 C743.25,434.81 743.32,434.89 743.66,435.40 C744.12,436.09 744.07,436.26 744.52,436.95 C744.87,437.49 744.91,437.60 745.38,438.03 C745.72,438.34 745.87,438.26 746.24,438.54 C746.67,438.85 746.67,439.34 747.10,439.30 C747.74,439.24 747.82,438.42 748.53,438.31 C749.16,438.21 749.36,438.99 749.97,438.86 C750.70,438.71 750.70,438.19 751.40,437.70 C752.03,437.26 752.11,437.08 752.83,436.86 C753.45,436.66 753.60,436.85 754.27,436.79 C754.94,436.73 755.16,436.36 755.70,436.60 C756.33,436.88 756.16,437.52 756.78,437.89 C757.17,438.13 757.40,437.76 757.85,437.92 C758.40,438.12 758.47,438.26 758.92,438.66 C759.47,439.14 759.39,439.57 760.00,439.80 C760.55,440.00 760.80,439.82 761.40,439.57 C762.11,439.29 762.22,439.18 762.80,438.67 C763.53,438.02 763.41,437.51 764.20,437.10 C764.74,436.82 764.98,437.06 765.63,437.19 C766.32,437.33 766.40,437.44 767.07,437.67 C767.74,437.91 767.96,438.39 768.50,438.20 C769.13,437.98 769.06,437.44 769.58,436.79 C770.07,436.17 770.11,436.05 770.66,435.49 C771.12,435.02 771.17,434.82 771.74,434.59 C772.18,434.41 772.48,434.88 772.82,434.60 C773.49,434.05 773.34,433.17 773.90,432.80 C774.15,432.64 774.33,433.10 774.54,433.47 C774.92,434.13 774.86,434.29 775.18,434.99 C775.45,435.59 775.51,435.67 775.82,436.25 C776.11,436.78 776.23,436.82 776.46,437.37 C776.83,438.24 776.52,438.86 777.10,439.30 C777.56,439.65 777.95,439.11 778.70,439.06 C779.44,439.02 779.55,439.13 780.30,439.11 C781.05,439.10 781.19,439.18 781.90,438.98 C782.69,438.76 782.83,438.12 783.50,438.20 C784.08,438.27 784.08,438.79 784.58,439.32 C785.09,439.88 785.06,440.28 785.65,440.53 C786.06,440.70 786.36,440.00 786.72,440.23 C787.37,440.64 787.36,441.86 787.80,441.90 C788.16,441.93 788.01,440.95 788.44,440.39 C788.61,440.17 788.96,440.49 789.08,440.23 C789.56,439.23 789.30,438.83 789.72,437.71 C789.90,437.24 790.06,437.24 790.36,436.83 C790.65,436.44 790.66,436.35 791.00,436.00 C791.45,435.54 791.60,435.56 792.07,435.11 C792.60,434.59 792.56,434.38 793.13,433.92 C793.56,433.58 793.67,433.49 794.20,433.40 C794.86,433.28 795.03,433.62 795.68,433.47 C796.40,433.30 796.43,432.83 797.15,432.72 C797.81,432.62 797.94,432.85 798.62,433.00 C799.32,433.16 799.51,433.04 800.10,433.40 C800.82,433.85 800.72,434.53 801.42,434.74 C801.96,434.89 802.26,433.94 802.75,434.17 C803.50,434.51 803.30,435.42 804.08,435.96 C804.54,436.28 804.78,435.95 805.40,436.00 C806.02,436.05 806.27,435.83 806.73,436.19 C807.51,436.81 807.27,437.47 808.05,438.09 C808.50,438.45 808.77,438.15 809.38,438.29 C810.00,438.43 810.09,438.74 810.70,438.70 C811.34,438.66 811.53,438.54 812.05,438.12 C812.79,437.54 812.70,437.21 813.40,436.56 C813.96,436.05 814.06,435.90 814.75,435.63 C815.32,435.41 815.52,435.70 816.10,435.50 C816.64,435.32 816.80,435.26 817.15,434.81 C817.78,434.03 817.61,433.70 818.20,432.86 C818.59,432.30 818.71,432.24 819.25,431.81 C819.69,431.46 819.87,431.07 820.30,431.20 C820.96,431.41 820.95,431.97 821.60,432.54 C822.16,433.04 822.24,433.34 822.90,433.48 C823.46,433.60 823.78,432.81 824.20,433.10 C825.00,433.67 824.70,434.59 825.50,435.33 C825.91,435.71 826.27,435.26 826.80,435.50 C827.37,435.76 827.33,436.03 827.86,436.41 C828.32,436.75 828.41,436.78 828.92,437.04 C829.40,437.29 829.58,437.16 829.98,437.49 C830.57,437.97 830.52,438.20 831.04,438.77 C831.50,439.28 831.55,439.67 832.10,439.80 C832.54,439.90 832.85,439.69 833.17,439.26 C833.85,438.35 833.59,437.92 834.23,436.94 C834.59,436.39 834.72,436.19 835.30,436.00 C835.85,435.81 836.06,435.94 836.65,436.12 C837.32,436.32 837.37,436.50 838.00,436.82 C838.63,437.13 838.78,437.07 839.35,437.47 C840.04,437.95 840.09,438.67 840.70,438.70 C841.22,438.72 841.18,437.90 841.77,437.58 C842.17,437.35 842.47,437.79 842.83,437.52 C843.47,437.05 843.28,436.31 843.90,436.00 C844.28,435.81 844.56,436.11 844.98,436.44 C845.56,436.90 845.65,437.04 846.05,437.69 C846.65,438.65 846.44,439.06 847.12,439.88 C847.45,440.27 847.68,440.16 848.20,440.30 C848.77,440.45 848.89,440.59 849.45,440.51 C850.06,440.43 850.23,440.36 850.70,439.95 C851.40,439.34 851.24,438.89 851.95,438.32 C852.40,437.96 852.62,437.95 853.20,437.95 C853.78,437.95 853.95,438.48 854.45,438.31 C855.12,438.08 855.04,437.28 855.70,437.10 C856.21,436.96 856.40,437.31 856.95,437.61 C857.57,437.95 857.56,438.26 858.20,438.47 C858.73,438.64 858.87,438.41 859.45,438.42 C860.03,438.43 860.19,438.29 860.70,438.52 C861.36,438.81 861.34,439.10 861.95,439.53 C862.51,439.93 862.65,440.28 863.20,440.30 C863.60,440.31 863.66,439.96 864.00,439.60 C864.41,439.15 864.47,439.08 864.80,438.57 C865.21,437.95 865.20,437.81 865.60,437.18 C865.95,436.61 865.89,436.20 866.40,436.00 C866.93,435.80 867.17,436.13 867.83,436.31 C868.51,436.50 868.59,436.60 869.27,436.79 C869.93,436.97 870.18,436.74 870.70,437.10 C871.23,437.47 871.15,437.76 871.50,438.36 C871.90,439.04 871.96,439.14 872.30,439.85 C872.70,440.68 872.63,440.87 873.10,441.65 C873.38,442.11 873.62,442.66 873.90,442.50 C874.37,442.22 874.22,441.47 874.70,440.70 C874.97,440.27 875.14,440.31 875.50,439.94 C875.88,439.56 876.04,439.56 876.30,439.10 C876.79,438.24 876.51,437.81 877.10,437.10 C877.45,436.69 877.90,437.09 878.30,436.70 C879.02,436.00 878.77,435.28 879.50,434.77 C879.89,434.49 880.28,435.26 880.70,435.02 C881.40,434.62 881.47,433.37 881.90,433.40 C882.28,433.42 882.06,434.44 882.44,435.12 C882.57,435.34 882.84,435.12 882.99,435.33 C883.35,435.85 883.25,436.07 883.53,436.69 C883.76,437.22 883.81,437.29 884.07,437.81 C884.31,438.28 884.46,438.30 884.61,438.80 C884.97,439.98 884.76,440.27 885.16,441.40 C885.27,441.72 885.53,442.04 885.70,441.90 C886.04,441.62 885.91,441.11 886.23,440.51 C886.40,440.20 886.65,440.29 886.77,439.96 C887.15,438.91 886.99,438.67 887.30,437.57 C887.49,436.90 887.47,436.64 887.83,436.17 C887.96,436.00 888.26,436.39 888.37,436.20 C888.75,435.56 888.44,434.60 888.90,434.40 C889.31,434.22 889.59,434.95 890.23,435.39 C890.83,435.81 890.88,436.00 891.55,436.24 C892.12,436.44 892.26,436.24 892.88,436.33 C893.50,436.41 893.73,436.26 894.20,436.60 C894.72,436.97 894.66,437.24 895.00,437.84 C895.41,438.55 895.29,438.84 895.80,439.40 C896.04,439.66 896.38,439.31 896.60,439.59 C897.13,440.25 896.93,441.30 897.40,441.40 C897.82,441.49 897.99,440.65 898.50,440.00" fill="none" stroke="#000" stroke-width="2.4" stroke-linejoin="round" stroke-linecap="round"/>
<line x1="756" y1="398.2" x2="764" y2="426.7" stroke="#111" stroke-width="1.2"/>
<line x1="787.8" y1="441.6" x2="791" y2="463.5" stroke="#111" stroke-width="1.2"/>
<text x="751" y="394.5" text-anchor="start" font-size="16" >b</text>
<text x="788.3" y="474.8" text-anchor="start" font-size="16" >a</text>
</svg>
</body></html>
